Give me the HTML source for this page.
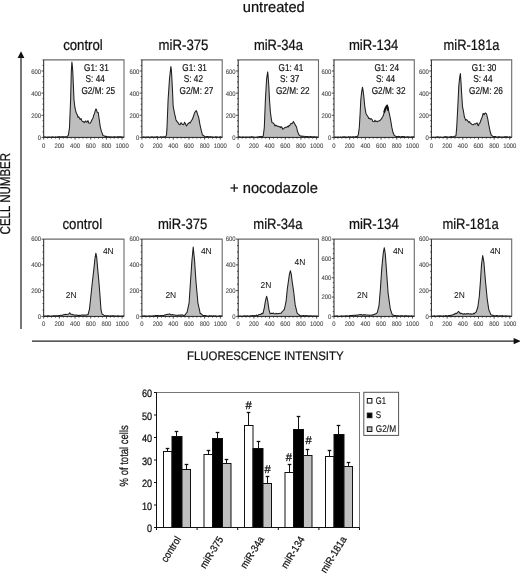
<!DOCTYPE html>
<html><head><meta charset="utf-8"><style>
html,body{margin:0;padding:0;background:#fff;}
body{width:520px;height:574px;overflow:hidden;}
svg{display:block;font-family:"Liberation Sans", sans-serif;will-change:transform;text-rendering:geometricPrecision;}
</style></head><body>
<svg width="520" height="574" viewBox="0 0 520 574">
<rect width="520" height="574" fill="#fff"/>
<text x="242.8" y="12.4" font-size="15" textLength="61.9" lengthAdjust="spacingAndGlyphs" fill="#111" stroke="#111" stroke-width="0.24" >untreated</text>
<text x="230.0" y="192.7" font-size="15" textLength="88.0" lengthAdjust="spacingAndGlyphs" fill="#111" stroke="#111" stroke-width="0.24" >+ nocodazole</text>
<text x="63.2" y="50.2" font-size="15" textLength="39.6" lengthAdjust="spacingAndGlyphs" fill="#111" stroke="#111" stroke-width="0.24" >control</text>
<text x="158.6" y="50.0" font-size="15" textLength="49.8" lengthAdjust="spacingAndGlyphs" fill="#111" stroke="#111" stroke-width="0.24" >miR-375</text>
<text x="253.9" y="50.0" font-size="15" textLength="49.0" lengthAdjust="spacingAndGlyphs" fill="#111" stroke="#111" stroke-width="0.24" >miR-34a</text>
<text x="348.9" y="50.0" font-size="15" textLength="49.5" lengthAdjust="spacingAndGlyphs" fill="#111" stroke="#111" stroke-width="0.24" >miR-134</text>
<text x="443.6" y="50.0" font-size="15" textLength="55.9" lengthAdjust="spacingAndGlyphs" fill="#111" stroke="#111" stroke-width="0.24" >miR-181a</text>
<text x="62.5" y="228.8" font-size="15" textLength="39.6" lengthAdjust="spacingAndGlyphs" fill="#111" stroke="#111" stroke-width="0.24" >control</text>
<text x="157.9" y="228.8" font-size="15" textLength="49.5" lengthAdjust="spacingAndGlyphs" fill="#111" stroke="#111" stroke-width="0.24" >miR-375</text>
<text x="253.3" y="228.8" font-size="15" textLength="49.3" lengthAdjust="spacingAndGlyphs" fill="#111" stroke="#111" stroke-width="0.24" >miR-34a</text>
<text x="348.9" y="228.8" font-size="15" textLength="49.9" lengthAdjust="spacingAndGlyphs" fill="#111" stroke="#111" stroke-width="0.24" >miR-134</text>
<text x="442.4" y="228.8" font-size="15" textLength="56.3" lengthAdjust="spacingAndGlyphs" fill="#111" stroke="#111" stroke-width="0.24" >miR-181a</text>
<line x1="21" y1="56" x2="21" y2="329" stroke="#555" stroke-width="1.6"/>
<polygon points="21,51.3 17.6,58 24.4,58" fill="#111"/>
<line x1="32" y1="341.1" x2="515" y2="341.1" stroke="#222" stroke-width="1.3"/>
<polygon points="521,341.1 513.6,337.9 513.6,344.3" fill="#111"/>
<text transform="translate(10.2,234.4) rotate(-90)" font-size="14.2" textLength="81.5" lengthAdjust="spacingAndGlyphs" fill="#111" stroke="#111" stroke-width="0.24">CELL NUMBER</text>
<text x="187.0" y="360.3" font-size="12.3" textLength="156.5" lengthAdjust="spacingAndGlyphs" fill="#111" stroke="#111" stroke-width="0.24" >FLUORESCENCE INTENSITY</text>
<path d="M43.70,137.40 L43.70,137.10 L44.52,136.89 L45.34,136.94 L46.15,137.13 L46.97,137.23 L47.79,137.07 L48.61,137.13 L49.43,136.90 L50.25,137.18 L51.06,137.07 L51.88,137.00 L52.70,136.81 L53.52,137.04 L54.34,137.17 L55.15,136.88 L55.97,136.96 L56.79,137.18 L57.61,136.78 L58.43,136.73 L59.25,136.83 L60.06,136.77 L60.88,137.12 L61.70,136.86 L62.50,136.70 L63.30,136.77 L64.10,136.84 L64.90,137.00 L65.70,136.74 L66.70,136.43 L67.70,136.05 L68.40,135.12 L69.50,127.60 L70.60,99.70 L71.30,71.90 L71.90,62.10 L72.30,65.40 L72.80,71.90 L73.40,85.80 L74.00,99.70 L74.80,106.70 L75.70,110.90 L76.60,113.75 L77.30,114.57 L78.00,117.38 L78.70,116.79 L79.40,117.80 L80.25,119.47 L81.10,118.66 L81.85,120.80 L82.60,121.45 L83.40,121.51 L84.20,122.60 L84.95,121.66 L85.70,120.96 L86.47,122.11 L87.23,121.85 L88.00,120.66 L88.75,122.97 L89.50,123.16 L90.50,123.02 L91.50,120.76 L92.25,119.19 L93.00,118.00 L93.75,115.20 L94.50,113.34 L95.15,111.16 L95.80,109.08 L96.45,109.38 L97.10,112.18 L98.20,112.50 L99.20,119.40 L100.30,127.10 L101.50,131.63 L102.25,133.42 L103.00,135.57 L103.95,135.81 L104.90,136.38 L105.83,136.26 L106.77,136.60 L107.70,136.75 L108.49,136.85 L109.28,136.77 L110.07,136.91 L110.86,136.81 L111.65,137.00 L112.44,137.07 L113.23,137.09 L114.02,136.85 L114.81,136.83 L115.60,136.96 L116.40,137.20 L117.19,136.82 L117.98,136.76 L118.77,136.75 L119.56,136.81 L120.35,136.79 L121.14,136.79 L121.93,137.03 L122.72,137.14 L123.51,136.96 L124.30,137.10 L124.30,137.40 Z" fill="#bebebe" stroke="none"/>
<path d="M43.70,137.10 L44.52,136.89 L45.34,136.94 L46.15,137.13 L46.97,137.23 L47.79,137.07 L48.61,137.13 L49.43,136.90 L50.25,137.18 L51.06,137.07 L51.88,137.00 L52.70,136.81 L53.52,137.04 L54.34,137.17 L55.15,136.88 L55.97,136.96 L56.79,137.18 L57.61,136.78 L58.43,136.73 L59.25,136.83 L60.06,136.77 L60.88,137.12 L61.70,136.86 L62.50,136.70 L63.30,136.77 L64.10,136.84 L64.90,137.00 L65.70,136.74 L66.70,136.43 L67.70,136.05 L68.40,135.12 L69.50,127.60 L70.60,99.70 L71.30,71.90 L71.90,62.10 L72.30,65.40 L72.80,71.90 L73.40,85.80 L74.00,99.70 L74.80,106.70 L75.70,110.90 L76.60,113.75 L77.30,114.57 L78.00,117.38 L78.70,116.79 L79.40,117.80 L80.25,119.47 L81.10,118.66 L81.85,120.80 L82.60,121.45 L83.40,121.51 L84.20,122.60 L84.95,121.66 L85.70,120.96 L86.47,122.11 L87.23,121.85 L88.00,120.66 L88.75,122.97 L89.50,123.16 L90.50,123.02 L91.50,120.76 L92.25,119.19 L93.00,118.00 L93.75,115.20 L94.50,113.34 L95.15,111.16 L95.80,109.08 L96.45,109.38 L97.10,112.18 L98.20,112.50 L99.20,119.40 L100.30,127.10 L101.50,131.63 L102.25,133.42 L103.00,135.57 L103.95,135.81 L104.90,136.38 L105.83,136.26 L106.77,136.60 L107.70,136.75 L108.49,136.85 L109.28,136.77 L110.07,136.91 L110.86,136.81 L111.65,137.00 L112.44,137.07 L113.23,137.09 L114.02,136.85 L114.81,136.83 L115.60,136.96 L116.40,137.20 L117.19,136.82 L117.98,136.76 L118.77,136.75 L119.56,136.81 L120.35,136.79 L121.14,136.79 L121.93,137.03 L122.72,137.14 L123.51,136.96 L124.30,137.10" fill="none" stroke="#1e1e1e" stroke-width="1.05" stroke-linejoin="round"/>
<polyline points="43.7,59.9 124.0,59.9 124.0,137.4" fill="none" stroke="#6a6a6a" stroke-width="1.1"/>
<polyline points="43.7,59.9 43.7,137.4 124.0,137.4" fill="none" stroke="#222" stroke-width="1.0"/>
<line x1="41.50" y1="137.40" x2="43.7" y2="137.40" stroke="#222" stroke-width="0.8"/>
<line x1="42.50" y1="131.86" x2="43.7" y2="131.86" stroke="#222" stroke-width="0.8"/>
<line x1="42.50" y1="126.33" x2="43.7" y2="126.33" stroke="#222" stroke-width="0.8"/>
<line x1="42.50" y1="120.79" x2="43.7" y2="120.79" stroke="#222" stroke-width="0.8"/>
<line x1="41.50" y1="115.26" x2="43.7" y2="115.26" stroke="#222" stroke-width="0.8"/>
<line x1="42.50" y1="109.72" x2="43.7" y2="109.72" stroke="#222" stroke-width="0.8"/>
<line x1="42.50" y1="104.19" x2="43.7" y2="104.19" stroke="#222" stroke-width="0.8"/>
<line x1="42.50" y1="98.65" x2="43.7" y2="98.65" stroke="#222" stroke-width="0.8"/>
<line x1="41.50" y1="93.11" x2="43.7" y2="93.11" stroke="#222" stroke-width="0.8"/>
<line x1="42.50" y1="87.58" x2="43.7" y2="87.58" stroke="#222" stroke-width="0.8"/>
<line x1="42.50" y1="82.04" x2="43.7" y2="82.04" stroke="#222" stroke-width="0.8"/>
<line x1="42.50" y1="76.51" x2="43.7" y2="76.51" stroke="#222" stroke-width="0.8"/>
<line x1="41.50" y1="70.97" x2="43.7" y2="70.97" stroke="#222" stroke-width="0.8"/>
<line x1="42.50" y1="65.44" x2="43.7" y2="65.44" stroke="#222" stroke-width="0.8"/>
<line x1="42.50" y1="59.90" x2="43.7" y2="59.90" stroke="#222" stroke-width="0.8"/>
<text x="41.10" y="140.20" font-size="6.6" textLength="3.30" lengthAdjust="spacingAndGlyphs" text-anchor="end" fill="#4a4a4a" stroke="#4a4a4a" stroke-width="0.12">0</text>
<text x="41.10" y="118.06" font-size="6.6" textLength="9.90" lengthAdjust="spacingAndGlyphs" text-anchor="end" fill="#4a4a4a" stroke="#4a4a4a" stroke-width="0.12">200</text>
<text x="41.10" y="95.91" font-size="6.6" textLength="9.90" lengthAdjust="spacingAndGlyphs" text-anchor="end" fill="#4a4a4a" stroke="#4a4a4a" stroke-width="0.12">400</text>
<text x="41.10" y="73.77" font-size="6.6" textLength="9.90" lengthAdjust="spacingAndGlyphs" text-anchor="end" fill="#4a4a4a" stroke="#4a4a4a" stroke-width="0.12">600</text>
<line x1="43.70" y1="137.4" x2="43.70" y2="139.60" stroke="#222" stroke-width="0.8"/>
<line x1="47.62" y1="137.4" x2="47.62" y2="138.60" stroke="#222" stroke-width="0.8"/>
<line x1="51.54" y1="137.4" x2="51.54" y2="138.60" stroke="#222" stroke-width="0.8"/>
<line x1="55.46" y1="137.4" x2="55.46" y2="138.60" stroke="#222" stroke-width="0.8"/>
<line x1="59.38" y1="137.4" x2="59.38" y2="139.60" stroke="#222" stroke-width="0.8"/>
<line x1="63.30" y1="137.4" x2="63.30" y2="138.60" stroke="#222" stroke-width="0.8"/>
<line x1="67.23" y1="137.4" x2="67.23" y2="138.60" stroke="#222" stroke-width="0.8"/>
<line x1="71.15" y1="137.4" x2="71.15" y2="138.60" stroke="#222" stroke-width="0.8"/>
<line x1="75.07" y1="137.4" x2="75.07" y2="139.60" stroke="#222" stroke-width="0.8"/>
<line x1="78.99" y1="137.4" x2="78.99" y2="138.60" stroke="#222" stroke-width="0.8"/>
<line x1="82.91" y1="137.4" x2="82.91" y2="138.60" stroke="#222" stroke-width="0.8"/>
<line x1="86.83" y1="137.4" x2="86.83" y2="138.60" stroke="#222" stroke-width="0.8"/>
<line x1="90.75" y1="137.4" x2="90.75" y2="139.60" stroke="#222" stroke-width="0.8"/>
<line x1="94.67" y1="137.4" x2="94.67" y2="138.60" stroke="#222" stroke-width="0.8"/>
<line x1="98.59" y1="137.4" x2="98.59" y2="138.60" stroke="#222" stroke-width="0.8"/>
<line x1="102.51" y1="137.4" x2="102.51" y2="138.60" stroke="#222" stroke-width="0.8"/>
<line x1="106.43" y1="137.4" x2="106.43" y2="139.60" stroke="#222" stroke-width="0.8"/>
<line x1="110.36" y1="137.4" x2="110.36" y2="138.60" stroke="#222" stroke-width="0.8"/>
<line x1="114.28" y1="137.4" x2="114.28" y2="138.60" stroke="#222" stroke-width="0.8"/>
<line x1="118.20" y1="137.4" x2="118.20" y2="138.60" stroke="#222" stroke-width="0.8"/>
<line x1="122.12" y1="137.4" x2="122.12" y2="139.60" stroke="#222" stroke-width="0.8"/>
<text x="43.70" y="148.00" font-size="6.6" textLength="3.30" lengthAdjust="spacingAndGlyphs" text-anchor="middle" fill="#4a4a4a" stroke="#4a4a4a" stroke-width="0.12">0</text>
<text x="59.38" y="148.00" font-size="6.6" textLength="9.90" lengthAdjust="spacingAndGlyphs" text-anchor="middle" fill="#4a4a4a" stroke="#4a4a4a" stroke-width="0.12">200</text>
<text x="75.07" y="148.00" font-size="6.6" textLength="9.90" lengthAdjust="spacingAndGlyphs" text-anchor="middle" fill="#4a4a4a" stroke="#4a4a4a" stroke-width="0.12">400</text>
<text x="90.75" y="148.00" font-size="6.6" textLength="9.90" lengthAdjust="spacingAndGlyphs" text-anchor="middle" fill="#4a4a4a" stroke="#4a4a4a" stroke-width="0.12">600</text>
<text x="106.43" y="148.00" font-size="6.6" textLength="9.90" lengthAdjust="spacingAndGlyphs" text-anchor="middle" fill="#4a4a4a" stroke="#4a4a4a" stroke-width="0.12">800</text>
<text x="122.12" y="148.00" font-size="6.6" textLength="13.20" lengthAdjust="spacingAndGlyphs" text-anchor="middle" fill="#4a4a4a" stroke="#4a4a4a" stroke-width="0.12">1000</text>
<path d="M141.90,137.40 L141.90,137.10 L142.72,137.25 L143.54,136.88 L144.35,136.93 L145.17,137.23 L145.99,137.08 L146.81,137.10 L147.63,136.98 L148.45,136.89 L149.26,137.25 L150.08,137.25 L150.90,136.85 L151.72,137.09 L152.54,136.88 L153.35,137.25 L154.17,137.06 L154.99,136.89 L155.81,137.19 L156.63,136.75 L157.45,136.77 L158.26,137.25 L159.08,137.25 L159.90,136.98 L160.70,136.68 L161.50,136.95 L162.30,136.99 L163.10,136.81 L163.90,136.98 L164.90,136.62 L165.90,136.24 L166.50,134.90 L167.00,127.60 L168.10,99.70 L168.80,89.25 L169.50,78.80 L170.20,72.65 L170.90,66.50 L171.40,70.40 L171.90,78.80 L172.60,92.80 L173.20,106.70 L173.90,110.20 L174.60,113.70 L175.30,116.55 L176.00,119.93 L176.75,121.09 L177.50,122.26 L178.30,122.98 L179.10,124.52 L180.05,124.66 L181.00,122.62 L181.95,123.94 L182.90,124.52 L183.70,124.68 L184.50,122.31 L185.45,123.53 L186.40,125.96 L187.17,125.03 L187.93,123.76 L188.70,123.28 L189.40,122.43 L190.10,123.06 L190.80,121.84 L191.65,120.26 L192.50,119.09 L193.45,116.22 L194.40,113.34 L195.30,111.66 L196.20,110.59 L196.85,111.77 L197.50,114.23 L198.60,117.10 L199.30,120.95 L200.00,124.80 L201.20,130.20 L201.80,132.50 L202.40,135.04 L203.15,135.22 L203.90,136.05 L204.90,136.55 L205.90,136.67 L206.69,136.60 L207.48,136.63 L208.27,136.83 L209.06,136.81 L209.85,136.79 L210.64,136.65 L211.43,136.82 L212.22,136.92 L213.01,136.88 L213.80,137.17 L214.60,137.18 L215.39,136.81 L216.18,136.66 L216.97,136.91 L217.76,137.05 L218.55,137.20 L219.34,137.02 L220.13,136.75 L220.92,136.90 L221.71,137.06 L222.50,137.10 L222.50,137.40 Z" fill="#bebebe" stroke="none"/>
<path d="M141.90,137.10 L142.72,137.25 L143.54,136.88 L144.35,136.93 L145.17,137.23 L145.99,137.08 L146.81,137.10 L147.63,136.98 L148.45,136.89 L149.26,137.25 L150.08,137.25 L150.90,136.85 L151.72,137.09 L152.54,136.88 L153.35,137.25 L154.17,137.06 L154.99,136.89 L155.81,137.19 L156.63,136.75 L157.45,136.77 L158.26,137.25 L159.08,137.25 L159.90,136.98 L160.70,136.68 L161.50,136.95 L162.30,136.99 L163.10,136.81 L163.90,136.98 L164.90,136.62 L165.90,136.24 L166.50,134.90 L167.00,127.60 L168.10,99.70 L168.80,89.25 L169.50,78.80 L170.20,72.65 L170.90,66.50 L171.40,70.40 L171.90,78.80 L172.60,92.80 L173.20,106.70 L173.90,110.20 L174.60,113.70 L175.30,116.55 L176.00,119.93 L176.75,121.09 L177.50,122.26 L178.30,122.98 L179.10,124.52 L180.05,124.66 L181.00,122.62 L181.95,123.94 L182.90,124.52 L183.70,124.68 L184.50,122.31 L185.45,123.53 L186.40,125.96 L187.17,125.03 L187.93,123.76 L188.70,123.28 L189.40,122.43 L190.10,123.06 L190.80,121.84 L191.65,120.26 L192.50,119.09 L193.45,116.22 L194.40,113.34 L195.30,111.66 L196.20,110.59 L196.85,111.77 L197.50,114.23 L198.60,117.10 L199.30,120.95 L200.00,124.80 L201.20,130.20 L201.80,132.50 L202.40,135.04 L203.15,135.22 L203.90,136.05 L204.90,136.55 L205.90,136.67 L206.69,136.60 L207.48,136.63 L208.27,136.83 L209.06,136.81 L209.85,136.79 L210.64,136.65 L211.43,136.82 L212.22,136.92 L213.01,136.88 L213.80,137.17 L214.60,137.18 L215.39,136.81 L216.18,136.66 L216.97,136.91 L217.76,137.05 L218.55,137.20 L219.34,137.02 L220.13,136.75 L220.92,136.90 L221.71,137.06 L222.50,137.10" fill="none" stroke="#1e1e1e" stroke-width="1.05" stroke-linejoin="round"/>
<polyline points="141.9,59.9 222.2,59.9 222.2,137.4" fill="none" stroke="#6a6a6a" stroke-width="1.1"/>
<polyline points="141.9,59.9 141.9,137.4 222.2,137.4" fill="none" stroke="#222" stroke-width="1.0"/>
<line x1="139.70" y1="137.40" x2="141.9" y2="137.40" stroke="#222" stroke-width="0.8"/>
<line x1="140.70" y1="131.86" x2="141.9" y2="131.86" stroke="#222" stroke-width="0.8"/>
<line x1="140.70" y1="126.33" x2="141.9" y2="126.33" stroke="#222" stroke-width="0.8"/>
<line x1="140.70" y1="120.79" x2="141.9" y2="120.79" stroke="#222" stroke-width="0.8"/>
<line x1="139.70" y1="115.26" x2="141.9" y2="115.26" stroke="#222" stroke-width="0.8"/>
<line x1="140.70" y1="109.72" x2="141.9" y2="109.72" stroke="#222" stroke-width="0.8"/>
<line x1="140.70" y1="104.19" x2="141.9" y2="104.19" stroke="#222" stroke-width="0.8"/>
<line x1="140.70" y1="98.65" x2="141.9" y2="98.65" stroke="#222" stroke-width="0.8"/>
<line x1="139.70" y1="93.11" x2="141.9" y2="93.11" stroke="#222" stroke-width="0.8"/>
<line x1="140.70" y1="87.58" x2="141.9" y2="87.58" stroke="#222" stroke-width="0.8"/>
<line x1="140.70" y1="82.04" x2="141.9" y2="82.04" stroke="#222" stroke-width="0.8"/>
<line x1="140.70" y1="76.51" x2="141.9" y2="76.51" stroke="#222" stroke-width="0.8"/>
<line x1="139.70" y1="70.97" x2="141.9" y2="70.97" stroke="#222" stroke-width="0.8"/>
<line x1="140.70" y1="65.44" x2="141.9" y2="65.44" stroke="#222" stroke-width="0.8"/>
<line x1="140.70" y1="59.90" x2="141.9" y2="59.90" stroke="#222" stroke-width="0.8"/>
<text x="139.30" y="140.20" font-size="6.6" textLength="3.30" lengthAdjust="spacingAndGlyphs" text-anchor="end" fill="#4a4a4a" stroke="#4a4a4a" stroke-width="0.12">0</text>
<text x="139.30" y="118.06" font-size="6.6" textLength="9.90" lengthAdjust="spacingAndGlyphs" text-anchor="end" fill="#4a4a4a" stroke="#4a4a4a" stroke-width="0.12">200</text>
<text x="139.30" y="95.91" font-size="6.6" textLength="9.90" lengthAdjust="spacingAndGlyphs" text-anchor="end" fill="#4a4a4a" stroke="#4a4a4a" stroke-width="0.12">400</text>
<text x="139.30" y="73.77" font-size="6.6" textLength="9.90" lengthAdjust="spacingAndGlyphs" text-anchor="end" fill="#4a4a4a" stroke="#4a4a4a" stroke-width="0.12">600</text>
<line x1="141.90" y1="137.4" x2="141.90" y2="139.60" stroke="#222" stroke-width="0.8"/>
<line x1="145.82" y1="137.4" x2="145.82" y2="138.60" stroke="#222" stroke-width="0.8"/>
<line x1="149.74" y1="137.4" x2="149.74" y2="138.60" stroke="#222" stroke-width="0.8"/>
<line x1="153.66" y1="137.4" x2="153.66" y2="138.60" stroke="#222" stroke-width="0.8"/>
<line x1="157.58" y1="137.4" x2="157.58" y2="139.60" stroke="#222" stroke-width="0.8"/>
<line x1="161.50" y1="137.4" x2="161.50" y2="138.60" stroke="#222" stroke-width="0.8"/>
<line x1="165.43" y1="137.4" x2="165.43" y2="138.60" stroke="#222" stroke-width="0.8"/>
<line x1="169.35" y1="137.4" x2="169.35" y2="138.60" stroke="#222" stroke-width="0.8"/>
<line x1="173.27" y1="137.4" x2="173.27" y2="139.60" stroke="#222" stroke-width="0.8"/>
<line x1="177.19" y1="137.4" x2="177.19" y2="138.60" stroke="#222" stroke-width="0.8"/>
<line x1="181.11" y1="137.4" x2="181.11" y2="138.60" stroke="#222" stroke-width="0.8"/>
<line x1="185.03" y1="137.4" x2="185.03" y2="138.60" stroke="#222" stroke-width="0.8"/>
<line x1="188.95" y1="137.4" x2="188.95" y2="139.60" stroke="#222" stroke-width="0.8"/>
<line x1="192.87" y1="137.4" x2="192.87" y2="138.60" stroke="#222" stroke-width="0.8"/>
<line x1="196.79" y1="137.4" x2="196.79" y2="138.60" stroke="#222" stroke-width="0.8"/>
<line x1="200.71" y1="137.4" x2="200.71" y2="138.60" stroke="#222" stroke-width="0.8"/>
<line x1="204.63" y1="137.4" x2="204.63" y2="139.60" stroke="#222" stroke-width="0.8"/>
<line x1="208.56" y1="137.4" x2="208.56" y2="138.60" stroke="#222" stroke-width="0.8"/>
<line x1="212.48" y1="137.4" x2="212.48" y2="138.60" stroke="#222" stroke-width="0.8"/>
<line x1="216.40" y1="137.4" x2="216.40" y2="138.60" stroke="#222" stroke-width="0.8"/>
<line x1="220.32" y1="137.4" x2="220.32" y2="139.60" stroke="#222" stroke-width="0.8"/>
<text x="141.90" y="148.00" font-size="6.6" textLength="3.30" lengthAdjust="spacingAndGlyphs" text-anchor="middle" fill="#4a4a4a" stroke="#4a4a4a" stroke-width="0.12">0</text>
<text x="157.58" y="148.00" font-size="6.6" textLength="9.90" lengthAdjust="spacingAndGlyphs" text-anchor="middle" fill="#4a4a4a" stroke="#4a4a4a" stroke-width="0.12">200</text>
<text x="173.27" y="148.00" font-size="6.6" textLength="9.90" lengthAdjust="spacingAndGlyphs" text-anchor="middle" fill="#4a4a4a" stroke="#4a4a4a" stroke-width="0.12">400</text>
<text x="188.95" y="148.00" font-size="6.6" textLength="9.90" lengthAdjust="spacingAndGlyphs" text-anchor="middle" fill="#4a4a4a" stroke="#4a4a4a" stroke-width="0.12">600</text>
<text x="204.63" y="148.00" font-size="6.6" textLength="9.90" lengthAdjust="spacingAndGlyphs" text-anchor="middle" fill="#4a4a4a" stroke="#4a4a4a" stroke-width="0.12">800</text>
<text x="220.32" y="148.00" font-size="6.6" textLength="13.20" lengthAdjust="spacingAndGlyphs" text-anchor="middle" fill="#4a4a4a" stroke="#4a4a4a" stroke-width="0.12">1000</text>
<path d="M238.20,137.40 L238.20,137.10 L239.02,136.82 L239.84,136.82 L240.65,137.25 L241.47,137.25 L242.29,136.88 L243.11,136.93 L243.93,136.97 L244.75,137.18 L245.56,137.00 L246.38,136.99 L247.20,137.00 L248.02,137.25 L248.84,137.08 L249.65,137.10 L250.47,136.90 L251.29,136.73 L252.11,136.75 L252.93,136.99 L253.75,137.05 L254.56,137.15 L255.38,137.25 L256.20,137.25 L257.00,136.96 L257.80,136.99 L258.60,136.89 L259.40,136.52 L260.20,136.68 L261.07,136.50 L261.93,136.52 L262.80,136.49 L263.30,135.50 L264.30,127.60 L265.40,99.70 L266.60,78.80 L267.70,71.90 L268.20,77.40 L268.80,85.80 L269.50,99.70 L270.40,112.40 L271.30,118.80 L272.00,122.63 L272.70,122.88 L273.40,122.90 L274.30,124.45 L275.07,125.97 L275.83,125.09 L276.60,125.83 L277.37,126.19 L278.13,126.10 L278.90,126.61 L279.67,126.70 L280.43,127.63 L281.20,126.63 L281.93,127.29 L282.67,129.28 L283.40,128.88 L284.25,128.03 L285.10,127.57 L285.88,127.32 L286.65,127.27 L287.43,126.34 L288.20,127.00 L288.97,125.63 L289.73,125.82 L290.50,124.03 L291.22,123.40 L291.95,123.68 L292.68,122.86 L293.40,121.56 L294.25,122.95 L295.10,124.43 L295.80,125.96 L296.50,126.74 L297.40,131.00 L298.50,133.89 L299.30,135.25 L300.10,135.76 L301.00,136.27 L301.90,136.02 L302.80,136.51 L303.60,136.16 L304.40,136.35 L305.20,136.50 L306.00,136.53 L306.80,136.48 L307.60,136.56 L308.40,136.76 L309.20,136.86 L310.00,136.71 L310.80,136.49 L311.60,136.71 L312.40,137.07 L313.20,136.66 L314.00,136.75 L314.80,136.68 L315.60,137.15 L316.40,136.85 L317.20,137.25 L318.00,136.97 L318.80,137.10 L318.80,137.40 Z" fill="#bebebe" stroke="none"/>
<path d="M238.20,137.10 L239.02,136.82 L239.84,136.82 L240.65,137.25 L241.47,137.25 L242.29,136.88 L243.11,136.93 L243.93,136.97 L244.75,137.18 L245.56,137.00 L246.38,136.99 L247.20,137.00 L248.02,137.25 L248.84,137.08 L249.65,137.10 L250.47,136.90 L251.29,136.73 L252.11,136.75 L252.93,136.99 L253.75,137.05 L254.56,137.15 L255.38,137.25 L256.20,137.25 L257.00,136.96 L257.80,136.99 L258.60,136.89 L259.40,136.52 L260.20,136.68 L261.07,136.50 L261.93,136.52 L262.80,136.49 L263.30,135.50 L264.30,127.60 L265.40,99.70 L266.60,78.80 L267.70,71.90 L268.20,77.40 L268.80,85.80 L269.50,99.70 L270.40,112.40 L271.30,118.80 L272.00,122.63 L272.70,122.88 L273.40,122.90 L274.30,124.45 L275.07,125.97 L275.83,125.09 L276.60,125.83 L277.37,126.19 L278.13,126.10 L278.90,126.61 L279.67,126.70 L280.43,127.63 L281.20,126.63 L281.93,127.29 L282.67,129.28 L283.40,128.88 L284.25,128.03 L285.10,127.57 L285.88,127.32 L286.65,127.27 L287.43,126.34 L288.20,127.00 L288.97,125.63 L289.73,125.82 L290.50,124.03 L291.22,123.40 L291.95,123.68 L292.68,122.86 L293.40,121.56 L294.25,122.95 L295.10,124.43 L295.80,125.96 L296.50,126.74 L297.40,131.00 L298.50,133.89 L299.30,135.25 L300.10,135.76 L301.00,136.27 L301.90,136.02 L302.80,136.51 L303.60,136.16 L304.40,136.35 L305.20,136.50 L306.00,136.53 L306.80,136.48 L307.60,136.56 L308.40,136.76 L309.20,136.86 L310.00,136.71 L310.80,136.49 L311.60,136.71 L312.40,137.07 L313.20,136.66 L314.00,136.75 L314.80,136.68 L315.60,137.15 L316.40,136.85 L317.20,137.25 L318.00,136.97 L318.80,137.10" fill="none" stroke="#1e1e1e" stroke-width="1.05" stroke-linejoin="round"/>
<polyline points="238.2,59.9 318.5,59.9 318.5,137.4" fill="none" stroke="#6a6a6a" stroke-width="1.1"/>
<polyline points="238.2,59.9 238.2,137.4 318.5,137.4" fill="none" stroke="#222" stroke-width="1.0"/>
<line x1="236.00" y1="137.40" x2="238.2" y2="137.40" stroke="#222" stroke-width="0.8"/>
<line x1="237.00" y1="131.86" x2="238.2" y2="131.86" stroke="#222" stroke-width="0.8"/>
<line x1="237.00" y1="126.33" x2="238.2" y2="126.33" stroke="#222" stroke-width="0.8"/>
<line x1="237.00" y1="120.79" x2="238.2" y2="120.79" stroke="#222" stroke-width="0.8"/>
<line x1="236.00" y1="115.26" x2="238.2" y2="115.26" stroke="#222" stroke-width="0.8"/>
<line x1="237.00" y1="109.72" x2="238.2" y2="109.72" stroke="#222" stroke-width="0.8"/>
<line x1="237.00" y1="104.19" x2="238.2" y2="104.19" stroke="#222" stroke-width="0.8"/>
<line x1="237.00" y1="98.65" x2="238.2" y2="98.65" stroke="#222" stroke-width="0.8"/>
<line x1="236.00" y1="93.11" x2="238.2" y2="93.11" stroke="#222" stroke-width="0.8"/>
<line x1="237.00" y1="87.58" x2="238.2" y2="87.58" stroke="#222" stroke-width="0.8"/>
<line x1="237.00" y1="82.04" x2="238.2" y2="82.04" stroke="#222" stroke-width="0.8"/>
<line x1="237.00" y1="76.51" x2="238.2" y2="76.51" stroke="#222" stroke-width="0.8"/>
<line x1="236.00" y1="70.97" x2="238.2" y2="70.97" stroke="#222" stroke-width="0.8"/>
<line x1="237.00" y1="65.44" x2="238.2" y2="65.44" stroke="#222" stroke-width="0.8"/>
<line x1="237.00" y1="59.90" x2="238.2" y2="59.90" stroke="#222" stroke-width="0.8"/>
<text x="235.60" y="140.20" font-size="6.6" textLength="3.30" lengthAdjust="spacingAndGlyphs" text-anchor="end" fill="#4a4a4a" stroke="#4a4a4a" stroke-width="0.12">0</text>
<text x="235.60" y="118.06" font-size="6.6" textLength="9.90" lengthAdjust="spacingAndGlyphs" text-anchor="end" fill="#4a4a4a" stroke="#4a4a4a" stroke-width="0.12">200</text>
<text x="235.60" y="95.91" font-size="6.6" textLength="9.90" lengthAdjust="spacingAndGlyphs" text-anchor="end" fill="#4a4a4a" stroke="#4a4a4a" stroke-width="0.12">400</text>
<text x="235.60" y="73.77" font-size="6.6" textLength="9.90" lengthAdjust="spacingAndGlyphs" text-anchor="end" fill="#4a4a4a" stroke="#4a4a4a" stroke-width="0.12">600</text>
<line x1="238.20" y1="137.4" x2="238.20" y2="139.60" stroke="#222" stroke-width="0.8"/>
<line x1="242.12" y1="137.4" x2="242.12" y2="138.60" stroke="#222" stroke-width="0.8"/>
<line x1="246.04" y1="137.4" x2="246.04" y2="138.60" stroke="#222" stroke-width="0.8"/>
<line x1="249.96" y1="137.4" x2="249.96" y2="138.60" stroke="#222" stroke-width="0.8"/>
<line x1="253.88" y1="137.4" x2="253.88" y2="139.60" stroke="#222" stroke-width="0.8"/>
<line x1="257.80" y1="137.4" x2="257.80" y2="138.60" stroke="#222" stroke-width="0.8"/>
<line x1="261.73" y1="137.4" x2="261.73" y2="138.60" stroke="#222" stroke-width="0.8"/>
<line x1="265.65" y1="137.4" x2="265.65" y2="138.60" stroke="#222" stroke-width="0.8"/>
<line x1="269.57" y1="137.4" x2="269.57" y2="139.60" stroke="#222" stroke-width="0.8"/>
<line x1="273.49" y1="137.4" x2="273.49" y2="138.60" stroke="#222" stroke-width="0.8"/>
<line x1="277.41" y1="137.4" x2="277.41" y2="138.60" stroke="#222" stroke-width="0.8"/>
<line x1="281.33" y1="137.4" x2="281.33" y2="138.60" stroke="#222" stroke-width="0.8"/>
<line x1="285.25" y1="137.4" x2="285.25" y2="139.60" stroke="#222" stroke-width="0.8"/>
<line x1="289.17" y1="137.4" x2="289.17" y2="138.60" stroke="#222" stroke-width="0.8"/>
<line x1="293.09" y1="137.4" x2="293.09" y2="138.60" stroke="#222" stroke-width="0.8"/>
<line x1="297.01" y1="137.4" x2="297.01" y2="138.60" stroke="#222" stroke-width="0.8"/>
<line x1="300.93" y1="137.4" x2="300.93" y2="139.60" stroke="#222" stroke-width="0.8"/>
<line x1="304.86" y1="137.4" x2="304.86" y2="138.60" stroke="#222" stroke-width="0.8"/>
<line x1="308.78" y1="137.4" x2="308.78" y2="138.60" stroke="#222" stroke-width="0.8"/>
<line x1="312.70" y1="137.4" x2="312.70" y2="138.60" stroke="#222" stroke-width="0.8"/>
<line x1="316.62" y1="137.4" x2="316.62" y2="139.60" stroke="#222" stroke-width="0.8"/>
<text x="238.20" y="148.00" font-size="6.6" textLength="3.30" lengthAdjust="spacingAndGlyphs" text-anchor="middle" fill="#4a4a4a" stroke="#4a4a4a" stroke-width="0.12">0</text>
<text x="253.88" y="148.00" font-size="6.6" textLength="9.90" lengthAdjust="spacingAndGlyphs" text-anchor="middle" fill="#4a4a4a" stroke="#4a4a4a" stroke-width="0.12">200</text>
<text x="269.57" y="148.00" font-size="6.6" textLength="9.90" lengthAdjust="spacingAndGlyphs" text-anchor="middle" fill="#4a4a4a" stroke="#4a4a4a" stroke-width="0.12">400</text>
<text x="285.25" y="148.00" font-size="6.6" textLength="9.90" lengthAdjust="spacingAndGlyphs" text-anchor="middle" fill="#4a4a4a" stroke="#4a4a4a" stroke-width="0.12">600</text>
<text x="300.93" y="148.00" font-size="6.6" textLength="9.90" lengthAdjust="spacingAndGlyphs" text-anchor="middle" fill="#4a4a4a" stroke="#4a4a4a" stroke-width="0.12">800</text>
<text x="316.62" y="148.00" font-size="6.6" textLength="13.20" lengthAdjust="spacingAndGlyphs" text-anchor="middle" fill="#4a4a4a" stroke="#4a4a4a" stroke-width="0.12">1000</text>
<path d="M334.00,137.40 L334.00,137.10 L334.82,137.25 L335.64,137.06 L336.45,137.16 L337.27,137.02 L338.09,137.00 L338.91,137.25 L339.73,137.25 L340.55,136.86 L341.36,137.20 L342.18,137.21 L343.00,136.75 L343.82,137.06 L344.64,136.84 L345.45,137.05 L346.27,136.95 L347.09,137.24 L347.91,136.94 L348.73,136.80 L349.55,137.00 L350.36,136.86 L351.18,136.90 L352.00,137.25 L352.80,136.79 L353.60,136.83 L354.40,136.94 L355.20,137.04 L356.00,136.48 L356.90,136.42 L357.80,135.97 L358.30,134.67 L359.30,127.60 L360.10,113.70 L360.80,99.70 L361.60,92.40 L362.50,87.20 L363.20,91.40 L363.90,97.00 L364.80,106.70 L366.00,113.70 L367.00,115.22 L368.00,116.76 L368.75,118.41 L369.50,118.20 L370.30,119.26 L371.10,118.63 L371.95,119.29 L372.80,121.41 L373.50,121.58 L374.20,121.67 L374.95,120.32 L375.70,121.53 L376.45,121.15 L377.20,121.80 L378.00,121.09 L378.80,121.03 L379.55,120.85 L380.30,120.13 L381.25,119.18 L382.20,117.59 L383.00,116.29 L383.80,114.04 L384.90,110.19 L385.80,107.92 L386.50,106.56 L387.40,105.07 L388.20,108.70 L389.40,114.10 L390.05,117.20 L390.70,120.30 L391.80,127.20 L392.40,129.90 L393.00,132.60 L393.60,133.77 L394.20,135.42 L395.10,135.86 L396.00,136.46 L396.81,136.40 L397.62,136.73 L398.43,136.38 L399.23,136.56 L400.04,136.76 L400.85,136.92 L401.66,136.47 L402.47,136.41 L403.28,136.98 L404.09,136.58 L404.90,136.84 L405.70,137.02 L406.51,136.96 L407.32,136.70 L408.13,136.67 L408.94,137.19 L409.75,136.87 L410.56,137.24 L411.37,136.86 L412.17,137.12 L412.98,136.82 L413.79,136.79 L414.60,137.10 L414.60,137.40 Z" fill="#bebebe" stroke="none"/>
<path d="M334.00,137.10 L334.82,137.25 L335.64,137.06 L336.45,137.16 L337.27,137.02 L338.09,137.00 L338.91,137.25 L339.73,137.25 L340.55,136.86 L341.36,137.20 L342.18,137.21 L343.00,136.75 L343.82,137.06 L344.64,136.84 L345.45,137.05 L346.27,136.95 L347.09,137.24 L347.91,136.94 L348.73,136.80 L349.55,137.00 L350.36,136.86 L351.18,136.90 L352.00,137.25 L352.80,136.79 L353.60,136.83 L354.40,136.94 L355.20,137.04 L356.00,136.48 L356.90,136.42 L357.80,135.97 L358.30,134.67 L359.30,127.60 L360.10,113.70 L360.80,99.70 L361.60,92.40 L362.50,87.20 L363.20,91.40 L363.90,97.00 L364.80,106.70 L366.00,113.70 L367.00,115.22 L368.00,116.76 L368.75,118.41 L369.50,118.20 L370.30,119.26 L371.10,118.63 L371.95,119.29 L372.80,121.41 L373.50,121.58 L374.20,121.67 L374.95,120.32 L375.70,121.53 L376.45,121.15 L377.20,121.80 L378.00,121.09 L378.80,121.03 L379.55,120.85 L380.30,120.13 L381.25,119.18 L382.20,117.59 L383.00,116.29 L383.80,114.04 L384.90,110.19 L385.80,107.92 L386.50,106.56 L387.40,105.07 L388.20,108.70 L389.40,114.10 L390.05,117.20 L390.70,120.30 L391.80,127.20 L392.40,129.90 L393.00,132.60 L393.60,133.77 L394.20,135.42 L395.10,135.86 L396.00,136.46 L396.81,136.40 L397.62,136.73 L398.43,136.38 L399.23,136.56 L400.04,136.76 L400.85,136.92 L401.66,136.47 L402.47,136.41 L403.28,136.98 L404.09,136.58 L404.90,136.84 L405.70,137.02 L406.51,136.96 L407.32,136.70 L408.13,136.67 L408.94,137.19 L409.75,136.87 L410.56,137.24 L411.37,136.86 L412.17,137.12 L412.98,136.82 L413.79,136.79 L414.60,137.10" fill="none" stroke="#1e1e1e" stroke-width="1.05" stroke-linejoin="round"/>
<polyline points="334.0,59.9 414.3,59.9 414.3,137.4" fill="none" stroke="#6a6a6a" stroke-width="1.1"/>
<polyline points="334.0,59.9 334.0,137.4 414.3,137.4" fill="none" stroke="#222" stroke-width="1.0"/>
<line x1="331.80" y1="137.40" x2="334.0" y2="137.40" stroke="#222" stroke-width="0.8"/>
<line x1="332.80" y1="131.86" x2="334.0" y2="131.86" stroke="#222" stroke-width="0.8"/>
<line x1="332.80" y1="126.33" x2="334.0" y2="126.33" stroke="#222" stroke-width="0.8"/>
<line x1="332.80" y1="120.79" x2="334.0" y2="120.79" stroke="#222" stroke-width="0.8"/>
<line x1="331.80" y1="115.26" x2="334.0" y2="115.26" stroke="#222" stroke-width="0.8"/>
<line x1="332.80" y1="109.72" x2="334.0" y2="109.72" stroke="#222" stroke-width="0.8"/>
<line x1="332.80" y1="104.19" x2="334.0" y2="104.19" stroke="#222" stroke-width="0.8"/>
<line x1="332.80" y1="98.65" x2="334.0" y2="98.65" stroke="#222" stroke-width="0.8"/>
<line x1="331.80" y1="93.11" x2="334.0" y2="93.11" stroke="#222" stroke-width="0.8"/>
<line x1="332.80" y1="87.58" x2="334.0" y2="87.58" stroke="#222" stroke-width="0.8"/>
<line x1="332.80" y1="82.04" x2="334.0" y2="82.04" stroke="#222" stroke-width="0.8"/>
<line x1="332.80" y1="76.51" x2="334.0" y2="76.51" stroke="#222" stroke-width="0.8"/>
<line x1="331.80" y1="70.97" x2="334.0" y2="70.97" stroke="#222" stroke-width="0.8"/>
<line x1="332.80" y1="65.44" x2="334.0" y2="65.44" stroke="#222" stroke-width="0.8"/>
<line x1="332.80" y1="59.90" x2="334.0" y2="59.90" stroke="#222" stroke-width="0.8"/>
<text x="331.40" y="140.20" font-size="6.6" textLength="3.30" lengthAdjust="spacingAndGlyphs" text-anchor="end" fill="#4a4a4a" stroke="#4a4a4a" stroke-width="0.12">0</text>
<text x="331.40" y="118.06" font-size="6.6" textLength="9.90" lengthAdjust="spacingAndGlyphs" text-anchor="end" fill="#4a4a4a" stroke="#4a4a4a" stroke-width="0.12">200</text>
<text x="331.40" y="95.91" font-size="6.6" textLength="9.90" lengthAdjust="spacingAndGlyphs" text-anchor="end" fill="#4a4a4a" stroke="#4a4a4a" stroke-width="0.12">400</text>
<text x="331.40" y="73.77" font-size="6.6" textLength="9.90" lengthAdjust="spacingAndGlyphs" text-anchor="end" fill="#4a4a4a" stroke="#4a4a4a" stroke-width="0.12">600</text>
<line x1="334.00" y1="137.4" x2="334.00" y2="139.60" stroke="#222" stroke-width="0.8"/>
<line x1="337.92" y1="137.4" x2="337.92" y2="138.60" stroke="#222" stroke-width="0.8"/>
<line x1="341.84" y1="137.4" x2="341.84" y2="138.60" stroke="#222" stroke-width="0.8"/>
<line x1="345.76" y1="137.4" x2="345.76" y2="138.60" stroke="#222" stroke-width="0.8"/>
<line x1="349.68" y1="137.4" x2="349.68" y2="139.60" stroke="#222" stroke-width="0.8"/>
<line x1="353.60" y1="137.4" x2="353.60" y2="138.60" stroke="#222" stroke-width="0.8"/>
<line x1="357.53" y1="137.4" x2="357.53" y2="138.60" stroke="#222" stroke-width="0.8"/>
<line x1="361.45" y1="137.4" x2="361.45" y2="138.60" stroke="#222" stroke-width="0.8"/>
<line x1="365.37" y1="137.4" x2="365.37" y2="139.60" stroke="#222" stroke-width="0.8"/>
<line x1="369.29" y1="137.4" x2="369.29" y2="138.60" stroke="#222" stroke-width="0.8"/>
<line x1="373.21" y1="137.4" x2="373.21" y2="138.60" stroke="#222" stroke-width="0.8"/>
<line x1="377.13" y1="137.4" x2="377.13" y2="138.60" stroke="#222" stroke-width="0.8"/>
<line x1="381.05" y1="137.4" x2="381.05" y2="139.60" stroke="#222" stroke-width="0.8"/>
<line x1="384.97" y1="137.4" x2="384.97" y2="138.60" stroke="#222" stroke-width="0.8"/>
<line x1="388.89" y1="137.4" x2="388.89" y2="138.60" stroke="#222" stroke-width="0.8"/>
<line x1="392.81" y1="137.4" x2="392.81" y2="138.60" stroke="#222" stroke-width="0.8"/>
<line x1="396.73" y1="137.4" x2="396.73" y2="139.60" stroke="#222" stroke-width="0.8"/>
<line x1="400.66" y1="137.4" x2="400.66" y2="138.60" stroke="#222" stroke-width="0.8"/>
<line x1="404.58" y1="137.4" x2="404.58" y2="138.60" stroke="#222" stroke-width="0.8"/>
<line x1="408.50" y1="137.4" x2="408.50" y2="138.60" stroke="#222" stroke-width="0.8"/>
<line x1="412.42" y1="137.4" x2="412.42" y2="139.60" stroke="#222" stroke-width="0.8"/>
<text x="334.00" y="148.00" font-size="6.6" textLength="3.30" lengthAdjust="spacingAndGlyphs" text-anchor="middle" fill="#4a4a4a" stroke="#4a4a4a" stroke-width="0.12">0</text>
<text x="349.68" y="148.00" font-size="6.6" textLength="9.90" lengthAdjust="spacingAndGlyphs" text-anchor="middle" fill="#4a4a4a" stroke="#4a4a4a" stroke-width="0.12">200</text>
<text x="365.37" y="148.00" font-size="6.6" textLength="9.90" lengthAdjust="spacingAndGlyphs" text-anchor="middle" fill="#4a4a4a" stroke="#4a4a4a" stroke-width="0.12">400</text>
<text x="381.05" y="148.00" font-size="6.6" textLength="9.90" lengthAdjust="spacingAndGlyphs" text-anchor="middle" fill="#4a4a4a" stroke="#4a4a4a" stroke-width="0.12">600</text>
<text x="396.73" y="148.00" font-size="6.6" textLength="9.90" lengthAdjust="spacingAndGlyphs" text-anchor="middle" fill="#4a4a4a" stroke="#4a4a4a" stroke-width="0.12">800</text>
<text x="412.42" y="148.00" font-size="6.6" textLength="13.20" lengthAdjust="spacingAndGlyphs" text-anchor="middle" fill="#4a4a4a" stroke="#4a4a4a" stroke-width="0.12">1000</text>
<path d="M431.40,137.40 L431.40,137.10 L432.22,137.25 L433.04,137.25 L433.85,137.15 L434.67,137.25 L435.49,137.25 L436.31,137.13 L437.13,136.82 L437.95,136.88 L438.76,136.90 L439.58,137.22 L440.40,137.03 L441.22,137.18 L442.04,137.24 L442.85,137.25 L443.67,137.20 L444.49,136.77 L445.31,136.83 L446.13,136.83 L446.95,136.83 L447.76,137.19 L448.58,137.12 L449.40,136.92 L450.20,136.80 L451.00,136.67 L451.80,136.59 L452.60,137.01 L453.40,136.64 L454.40,136.35 L455.40,136.20 L456.00,135.39 L456.70,127.60 L457.80,106.70 L458.80,85.80 L459.70,77.40 L460.40,73.50 L461.00,82.40 L461.60,92.80 L462.50,106.70 L463.40,110.90 L464.30,116.50 L465.00,118.35 L465.70,120.22 L466.40,119.63 L467.30,120.27 L468.07,121.40 L468.83,122.40 L469.60,121.68 L470.37,123.26 L471.13,123.54 L471.90,124.50 L472.67,124.82 L473.43,124.64 L474.20,123.90 L474.93,123.84 L475.67,123.98 L476.40,123.29 L477.10,122.91 L477.80,125.08 L478.50,125.71 L479.25,123.40 L480.00,122.94 L480.75,120.53 L481.50,118.76 L482.30,116.86 L483.10,113.41 L484.20,114.71 L484.80,113.42 L485.40,112.99 L486.50,113.83 L487.70,118.70 L488.80,124.80 L489.40,127.90 L490.00,131.00 L491.20,135.01 L491.95,135.69 L492.70,136.25 L493.60,136.64 L494.50,136.63 L495.40,136.56 L496.19,137.05 L496.98,137.09 L497.77,137.01 L498.56,136.70 L499.35,136.80 L500.14,137.04 L500.93,137.00 L501.72,137.11 L502.51,136.95 L503.30,137.22 L504.10,136.84 L504.89,136.73 L505.68,136.71 L506.47,136.86 L507.26,136.74 L508.05,137.25 L508.84,137.17 L509.63,136.78 L510.42,136.91 L511.21,137.14 L512.00,137.10 L512.00,137.40 Z" fill="#bebebe" stroke="none"/>
<path d="M431.40,137.10 L432.22,137.25 L433.04,137.25 L433.85,137.15 L434.67,137.25 L435.49,137.25 L436.31,137.13 L437.13,136.82 L437.95,136.88 L438.76,136.90 L439.58,137.22 L440.40,137.03 L441.22,137.18 L442.04,137.24 L442.85,137.25 L443.67,137.20 L444.49,136.77 L445.31,136.83 L446.13,136.83 L446.95,136.83 L447.76,137.19 L448.58,137.12 L449.40,136.92 L450.20,136.80 L451.00,136.67 L451.80,136.59 L452.60,137.01 L453.40,136.64 L454.40,136.35 L455.40,136.20 L456.00,135.39 L456.70,127.60 L457.80,106.70 L458.80,85.80 L459.70,77.40 L460.40,73.50 L461.00,82.40 L461.60,92.80 L462.50,106.70 L463.40,110.90 L464.30,116.50 L465.00,118.35 L465.70,120.22 L466.40,119.63 L467.30,120.27 L468.07,121.40 L468.83,122.40 L469.60,121.68 L470.37,123.26 L471.13,123.54 L471.90,124.50 L472.67,124.82 L473.43,124.64 L474.20,123.90 L474.93,123.84 L475.67,123.98 L476.40,123.29 L477.10,122.91 L477.80,125.08 L478.50,125.71 L479.25,123.40 L480.00,122.94 L480.75,120.53 L481.50,118.76 L482.30,116.86 L483.10,113.41 L484.20,114.71 L484.80,113.42 L485.40,112.99 L486.50,113.83 L487.70,118.70 L488.80,124.80 L489.40,127.90 L490.00,131.00 L491.20,135.01 L491.95,135.69 L492.70,136.25 L493.60,136.64 L494.50,136.63 L495.40,136.56 L496.19,137.05 L496.98,137.09 L497.77,137.01 L498.56,136.70 L499.35,136.80 L500.14,137.04 L500.93,137.00 L501.72,137.11 L502.51,136.95 L503.30,137.22 L504.10,136.84 L504.89,136.73 L505.68,136.71 L506.47,136.86 L507.26,136.74 L508.05,137.25 L508.84,137.17 L509.63,136.78 L510.42,136.91 L511.21,137.14 L512.00,137.10" fill="none" stroke="#1e1e1e" stroke-width="1.05" stroke-linejoin="round"/>
<polyline points="431.4,59.9 511.7,59.9 511.7,137.4" fill="none" stroke="#6a6a6a" stroke-width="1.1"/>
<polyline points="431.4,59.9 431.4,137.4 511.7,137.4" fill="none" stroke="#222" stroke-width="1.0"/>
<line x1="429.20" y1="137.40" x2="431.4" y2="137.40" stroke="#222" stroke-width="0.8"/>
<line x1="430.20" y1="131.86" x2="431.4" y2="131.86" stroke="#222" stroke-width="0.8"/>
<line x1="430.20" y1="126.33" x2="431.4" y2="126.33" stroke="#222" stroke-width="0.8"/>
<line x1="430.20" y1="120.79" x2="431.4" y2="120.79" stroke="#222" stroke-width="0.8"/>
<line x1="429.20" y1="115.26" x2="431.4" y2="115.26" stroke="#222" stroke-width="0.8"/>
<line x1="430.20" y1="109.72" x2="431.4" y2="109.72" stroke="#222" stroke-width="0.8"/>
<line x1="430.20" y1="104.19" x2="431.4" y2="104.19" stroke="#222" stroke-width="0.8"/>
<line x1="430.20" y1="98.65" x2="431.4" y2="98.65" stroke="#222" stroke-width="0.8"/>
<line x1="429.20" y1="93.11" x2="431.4" y2="93.11" stroke="#222" stroke-width="0.8"/>
<line x1="430.20" y1="87.58" x2="431.4" y2="87.58" stroke="#222" stroke-width="0.8"/>
<line x1="430.20" y1="82.04" x2="431.4" y2="82.04" stroke="#222" stroke-width="0.8"/>
<line x1="430.20" y1="76.51" x2="431.4" y2="76.51" stroke="#222" stroke-width="0.8"/>
<line x1="429.20" y1="70.97" x2="431.4" y2="70.97" stroke="#222" stroke-width="0.8"/>
<line x1="430.20" y1="65.44" x2="431.4" y2="65.44" stroke="#222" stroke-width="0.8"/>
<line x1="430.20" y1="59.90" x2="431.4" y2="59.90" stroke="#222" stroke-width="0.8"/>
<text x="428.80" y="140.20" font-size="6.6" textLength="3.30" lengthAdjust="spacingAndGlyphs" text-anchor="end" fill="#4a4a4a" stroke="#4a4a4a" stroke-width="0.12">0</text>
<text x="428.80" y="118.06" font-size="6.6" textLength="9.90" lengthAdjust="spacingAndGlyphs" text-anchor="end" fill="#4a4a4a" stroke="#4a4a4a" stroke-width="0.12">200</text>
<text x="428.80" y="95.91" font-size="6.6" textLength="9.90" lengthAdjust="spacingAndGlyphs" text-anchor="end" fill="#4a4a4a" stroke="#4a4a4a" stroke-width="0.12">400</text>
<text x="428.80" y="73.77" font-size="6.6" textLength="9.90" lengthAdjust="spacingAndGlyphs" text-anchor="end" fill="#4a4a4a" stroke="#4a4a4a" stroke-width="0.12">600</text>
<line x1="431.40" y1="137.4" x2="431.40" y2="139.60" stroke="#222" stroke-width="0.8"/>
<line x1="435.32" y1="137.4" x2="435.32" y2="138.60" stroke="#222" stroke-width="0.8"/>
<line x1="439.24" y1="137.4" x2="439.24" y2="138.60" stroke="#222" stroke-width="0.8"/>
<line x1="443.16" y1="137.4" x2="443.16" y2="138.60" stroke="#222" stroke-width="0.8"/>
<line x1="447.08" y1="137.4" x2="447.08" y2="139.60" stroke="#222" stroke-width="0.8"/>
<line x1="451.00" y1="137.4" x2="451.00" y2="138.60" stroke="#222" stroke-width="0.8"/>
<line x1="454.93" y1="137.4" x2="454.93" y2="138.60" stroke="#222" stroke-width="0.8"/>
<line x1="458.85" y1="137.4" x2="458.85" y2="138.60" stroke="#222" stroke-width="0.8"/>
<line x1="462.77" y1="137.4" x2="462.77" y2="139.60" stroke="#222" stroke-width="0.8"/>
<line x1="466.69" y1="137.4" x2="466.69" y2="138.60" stroke="#222" stroke-width="0.8"/>
<line x1="470.61" y1="137.4" x2="470.61" y2="138.60" stroke="#222" stroke-width="0.8"/>
<line x1="474.53" y1="137.4" x2="474.53" y2="138.60" stroke="#222" stroke-width="0.8"/>
<line x1="478.45" y1="137.4" x2="478.45" y2="139.60" stroke="#222" stroke-width="0.8"/>
<line x1="482.37" y1="137.4" x2="482.37" y2="138.60" stroke="#222" stroke-width="0.8"/>
<line x1="486.29" y1="137.4" x2="486.29" y2="138.60" stroke="#222" stroke-width="0.8"/>
<line x1="490.21" y1="137.4" x2="490.21" y2="138.60" stroke="#222" stroke-width="0.8"/>
<line x1="494.13" y1="137.4" x2="494.13" y2="139.60" stroke="#222" stroke-width="0.8"/>
<line x1="498.06" y1="137.4" x2="498.06" y2="138.60" stroke="#222" stroke-width="0.8"/>
<line x1="501.98" y1="137.4" x2="501.98" y2="138.60" stroke="#222" stroke-width="0.8"/>
<line x1="505.90" y1="137.4" x2="505.90" y2="138.60" stroke="#222" stroke-width="0.8"/>
<line x1="509.82" y1="137.4" x2="509.82" y2="139.60" stroke="#222" stroke-width="0.8"/>
<text x="431.40" y="148.00" font-size="6.6" textLength="3.30" lengthAdjust="spacingAndGlyphs" text-anchor="middle" fill="#4a4a4a" stroke="#4a4a4a" stroke-width="0.12">0</text>
<text x="447.08" y="148.00" font-size="6.6" textLength="9.90" lengthAdjust="spacingAndGlyphs" text-anchor="middle" fill="#4a4a4a" stroke="#4a4a4a" stroke-width="0.12">200</text>
<text x="462.77" y="148.00" font-size="6.6" textLength="9.90" lengthAdjust="spacingAndGlyphs" text-anchor="middle" fill="#4a4a4a" stroke="#4a4a4a" stroke-width="0.12">400</text>
<text x="478.45" y="148.00" font-size="6.6" textLength="9.90" lengthAdjust="spacingAndGlyphs" text-anchor="middle" fill="#4a4a4a" stroke="#4a4a4a" stroke-width="0.12">600</text>
<text x="494.13" y="148.00" font-size="6.6" textLength="9.90" lengthAdjust="spacingAndGlyphs" text-anchor="middle" fill="#4a4a4a" stroke="#4a4a4a" stroke-width="0.12">800</text>
<text x="509.82" y="148.00" font-size="6.6" textLength="13.20" lengthAdjust="spacingAndGlyphs" text-anchor="middle" fill="#4a4a4a" stroke="#4a4a4a" stroke-width="0.12">1000</text>
<path d="M43.70,316.40 L43.70,316.10 L44.50,316.04 L45.30,316.12 L46.10,316.01 L46.90,316.22 L47.70,315.85 L48.50,315.83 L49.30,315.91 L50.10,316.20 L50.90,315.97 L51.70,316.07 L52.50,316.10 L53.30,315.67 L54.10,315.63 L54.90,316.19 L55.70,315.68 L56.50,315.76 L57.30,315.81 L58.10,315.79 L58.90,315.48 L59.70,315.53 L60.50,315.29 L61.30,315.20 L62.10,315.42 L62.90,314.94 L63.70,314.71 L64.70,314.42 L65.70,314.33 L66.70,314.47 L67.70,314.30 L68.70,314.00 L69.70,312.85 L70.45,313.89 L71.20,314.18 L71.95,314.16 L72.70,314.81 L73.50,314.77 L74.30,314.94 L75.10,315.26 L75.90,315.05 L76.70,314.99 L77.53,315.41 L78.37,315.37 L79.20,315.25 L80.03,315.48 L80.87,315.20 L81.70,315.01 L82.50,315.09 L83.30,315.14 L84.10,314.93 L84.90,315.33 L85.70,315.06 L86.47,315.01 L87.23,314.71 L88.00,314.83 L88.70,311.82 L89.40,309.70 L90.15,302.75 L90.90,295.80 L91.65,288.80 L92.40,281.80 L93.20,274.85 L94.00,267.90 L95.10,257.40 L95.90,253.20 L96.70,257.40 L97.60,267.90 L98.25,274.85 L98.90,281.80 L100.00,295.80 L101.00,309.70 L101.60,312.30 L102.20,314.10 L102.95,314.47 L103.70,315.13 L104.70,315.59 L105.70,315.75 L106.51,315.87 L107.32,315.87 L108.13,315.68 L108.93,315.96 L109.74,316.02 L110.55,315.83 L111.36,316.02 L112.17,315.75 L112.98,315.66 L113.79,315.71 L114.60,315.90 L115.40,316.00 L116.21,315.97 L117.02,316.24 L117.83,315.83 L118.64,316.08 L119.45,316.10 L120.26,316.25 L121.07,316.06 L121.87,316.00 L122.68,316.13 L123.49,315.86 L124.30,316.10 L124.30,316.40 Z" fill="#bebebe" stroke="none"/>
<path d="M43.70,316.10 L44.50,316.04 L45.30,316.12 L46.10,316.01 L46.90,316.22 L47.70,315.85 L48.50,315.83 L49.30,315.91 L50.10,316.20 L50.90,315.97 L51.70,316.07 L52.50,316.10 L53.30,315.67 L54.10,315.63 L54.90,316.19 L55.70,315.68 L56.50,315.76 L57.30,315.81 L58.10,315.79 L58.90,315.48 L59.70,315.53 L60.50,315.29 L61.30,315.20 L62.10,315.42 L62.90,314.94 L63.70,314.71 L64.70,314.42 L65.70,314.33 L66.70,314.47 L67.70,314.30 L68.70,314.00 L69.70,312.85 L70.45,313.89 L71.20,314.18 L71.95,314.16 L72.70,314.81 L73.50,314.77 L74.30,314.94 L75.10,315.26 L75.90,315.05 L76.70,314.99 L77.53,315.41 L78.37,315.37 L79.20,315.25 L80.03,315.48 L80.87,315.20 L81.70,315.01 L82.50,315.09 L83.30,315.14 L84.10,314.93 L84.90,315.33 L85.70,315.06 L86.47,315.01 L87.23,314.71 L88.00,314.83 L88.70,311.82 L89.40,309.70 L90.15,302.75 L90.90,295.80 L91.65,288.80 L92.40,281.80 L93.20,274.85 L94.00,267.90 L95.10,257.40 L95.90,253.20 L96.70,257.40 L97.60,267.90 L98.25,274.85 L98.90,281.80 L100.00,295.80 L101.00,309.70 L101.60,312.30 L102.20,314.10 L102.95,314.47 L103.70,315.13 L104.70,315.59 L105.70,315.75 L106.51,315.87 L107.32,315.87 L108.13,315.68 L108.93,315.96 L109.74,316.02 L110.55,315.83 L111.36,316.02 L112.17,315.75 L112.98,315.66 L113.79,315.71 L114.60,315.90 L115.40,316.00 L116.21,315.97 L117.02,316.24 L117.83,315.83 L118.64,316.08 L119.45,316.10 L120.26,316.25 L121.07,316.06 L121.87,316.00 L122.68,316.13 L123.49,315.86 L124.30,316.10" fill="none" stroke="#1e1e1e" stroke-width="1.05" stroke-linejoin="round"/>
<polyline points="43.7,239.1 124.0,239.1 124.0,316.4" fill="none" stroke="#6a6a6a" stroke-width="1.1"/>
<polyline points="43.7,239.1 43.7,316.4 124.0,316.4" fill="none" stroke="#222" stroke-width="1.0"/>
<line x1="41.50" y1="316.40" x2="43.7" y2="316.40" stroke="#222" stroke-width="0.8"/>
<line x1="42.50" y1="309.96" x2="43.7" y2="309.96" stroke="#222" stroke-width="0.8"/>
<line x1="42.50" y1="303.52" x2="43.7" y2="303.52" stroke="#222" stroke-width="0.8"/>
<line x1="42.50" y1="297.07" x2="43.7" y2="297.07" stroke="#222" stroke-width="0.8"/>
<line x1="41.50" y1="290.63" x2="43.7" y2="290.63" stroke="#222" stroke-width="0.8"/>
<line x1="42.50" y1="284.19" x2="43.7" y2="284.19" stroke="#222" stroke-width="0.8"/>
<line x1="42.50" y1="277.75" x2="43.7" y2="277.75" stroke="#222" stroke-width="0.8"/>
<line x1="42.50" y1="271.31" x2="43.7" y2="271.31" stroke="#222" stroke-width="0.8"/>
<line x1="41.50" y1="264.87" x2="43.7" y2="264.87" stroke="#222" stroke-width="0.8"/>
<line x1="42.50" y1="258.43" x2="43.7" y2="258.43" stroke="#222" stroke-width="0.8"/>
<line x1="42.50" y1="251.98" x2="43.7" y2="251.98" stroke="#222" stroke-width="0.8"/>
<line x1="42.50" y1="245.54" x2="43.7" y2="245.54" stroke="#222" stroke-width="0.8"/>
<line x1="41.50" y1="239.10" x2="43.7" y2="239.10" stroke="#222" stroke-width="0.8"/>
<text x="41.10" y="318.70" font-size="6.6" textLength="3.30" lengthAdjust="spacingAndGlyphs" text-anchor="end" fill="#4a4a4a" stroke="#4a4a4a" stroke-width="0.12">0</text>
<text x="41.10" y="292.93" font-size="6.6" textLength="9.90" lengthAdjust="spacingAndGlyphs" text-anchor="end" fill="#4a4a4a" stroke="#4a4a4a" stroke-width="0.12">200</text>
<text x="41.10" y="267.17" font-size="6.6" textLength="9.90" lengthAdjust="spacingAndGlyphs" text-anchor="end" fill="#4a4a4a" stroke="#4a4a4a" stroke-width="0.12">400</text>
<text x="41.10" y="241.40" font-size="6.6" textLength="9.90" lengthAdjust="spacingAndGlyphs" text-anchor="end" fill="#4a4a4a" stroke="#4a4a4a" stroke-width="0.12">600</text>
<line x1="43.70" y1="316.4" x2="43.70" y2="318.60" stroke="#222" stroke-width="0.8"/>
<line x1="47.62" y1="316.4" x2="47.62" y2="317.60" stroke="#222" stroke-width="0.8"/>
<line x1="51.54" y1="316.4" x2="51.54" y2="317.60" stroke="#222" stroke-width="0.8"/>
<line x1="55.46" y1="316.4" x2="55.46" y2="317.60" stroke="#222" stroke-width="0.8"/>
<line x1="59.38" y1="316.4" x2="59.38" y2="318.60" stroke="#222" stroke-width="0.8"/>
<line x1="63.30" y1="316.4" x2="63.30" y2="317.60" stroke="#222" stroke-width="0.8"/>
<line x1="67.23" y1="316.4" x2="67.23" y2="317.60" stroke="#222" stroke-width="0.8"/>
<line x1="71.15" y1="316.4" x2="71.15" y2="317.60" stroke="#222" stroke-width="0.8"/>
<line x1="75.07" y1="316.4" x2="75.07" y2="318.60" stroke="#222" stroke-width="0.8"/>
<line x1="78.99" y1="316.4" x2="78.99" y2="317.60" stroke="#222" stroke-width="0.8"/>
<line x1="82.91" y1="316.4" x2="82.91" y2="317.60" stroke="#222" stroke-width="0.8"/>
<line x1="86.83" y1="316.4" x2="86.83" y2="317.60" stroke="#222" stroke-width="0.8"/>
<line x1="90.75" y1="316.4" x2="90.75" y2="318.60" stroke="#222" stroke-width="0.8"/>
<line x1="94.67" y1="316.4" x2="94.67" y2="317.60" stroke="#222" stroke-width="0.8"/>
<line x1="98.59" y1="316.4" x2="98.59" y2="317.60" stroke="#222" stroke-width="0.8"/>
<line x1="102.51" y1="316.4" x2="102.51" y2="317.60" stroke="#222" stroke-width="0.8"/>
<line x1="106.43" y1="316.4" x2="106.43" y2="318.60" stroke="#222" stroke-width="0.8"/>
<line x1="110.36" y1="316.4" x2="110.36" y2="317.60" stroke="#222" stroke-width="0.8"/>
<line x1="114.28" y1="316.4" x2="114.28" y2="317.60" stroke="#222" stroke-width="0.8"/>
<line x1="118.20" y1="316.4" x2="118.20" y2="317.60" stroke="#222" stroke-width="0.8"/>
<line x1="122.12" y1="316.4" x2="122.12" y2="318.60" stroke="#222" stroke-width="0.8"/>
<text x="43.70" y="326.30" font-size="6.6" textLength="3.30" lengthAdjust="spacingAndGlyphs" text-anchor="middle" fill="#4a4a4a" stroke="#4a4a4a" stroke-width="0.12">0</text>
<text x="59.38" y="326.30" font-size="6.6" textLength="9.90" lengthAdjust="spacingAndGlyphs" text-anchor="middle" fill="#4a4a4a" stroke="#4a4a4a" stroke-width="0.12">200</text>
<text x="75.07" y="326.30" font-size="6.6" textLength="9.90" lengthAdjust="spacingAndGlyphs" text-anchor="middle" fill="#4a4a4a" stroke="#4a4a4a" stroke-width="0.12">400</text>
<text x="90.75" y="326.30" font-size="6.6" textLength="9.90" lengthAdjust="spacingAndGlyphs" text-anchor="middle" fill="#4a4a4a" stroke="#4a4a4a" stroke-width="0.12">600</text>
<text x="106.43" y="326.30" font-size="6.6" textLength="9.90" lengthAdjust="spacingAndGlyphs" text-anchor="middle" fill="#4a4a4a" stroke="#4a4a4a" stroke-width="0.12">800</text>
<text x="122.12" y="326.30" font-size="6.6" textLength="13.20" lengthAdjust="spacingAndGlyphs" text-anchor="middle" fill="#4a4a4a" stroke="#4a4a4a" stroke-width="0.12">1000</text>
<path d="M141.90,316.40 L141.90,316.10 L142.70,316.12 L143.50,316.04 L144.30,315.81 L145.10,316.07 L145.90,316.03 L146.70,315.97 L147.50,316.20 L148.30,315.99 L149.10,315.90 L149.90,315.79 L150.70,316.20 L151.50,316.06 L152.30,316.17 L153.10,315.73 L153.90,315.78 L154.73,316.12 L155.57,315.51 L156.40,315.47 L157.23,315.61 L158.07,315.58 L158.90,315.81 L159.73,315.82 L160.57,315.45 L161.40,315.66 L162.23,315.52 L163.07,315.42 L163.90,315.48 L164.65,315.07 L165.40,314.94 L166.15,314.54 L166.90,314.59 L167.80,314.32 L168.70,314.20 L169.60,313.90 L170.50,314.43 L171.40,314.93 L172.28,314.60 L173.15,314.70 L174.03,314.90 L174.90,315.08 L175.68,315.30 L176.46,315.34 L177.23,315.29 L178.01,315.41 L178.79,314.98 L179.57,315.19 L180.34,314.91 L181.12,315.18 L181.90,314.83 L182.65,314.94 L183.40,315.50 L184.15,315.42 L184.90,315.05 L185.60,314.38 L186.30,312.96 L187.00,312.62 L187.70,309.27 L188.40,306.03 L189.10,302.80 L189.80,292.30 L190.50,281.80 L191.20,271.35 L191.90,260.90 L192.55,253.95 L193.20,247.00 L193.90,253.95 L194.60,260.90 L195.30,271.35 L196.00,281.80 L196.95,292.30 L197.90,302.80 L198.67,306.27 L199.43,309.73 L200.20,313.64 L200.90,313.60 L201.60,314.08 L202.30,314.91 L203.00,315.55 L203.95,315.60 L204.90,315.42 L205.70,315.56 L206.50,315.97 L207.30,315.91 L208.10,316.01 L208.90,316.05 L209.70,315.63 L210.50,316.02 L211.30,315.81 L212.10,315.90 L212.90,316.07 L213.70,315.76 L214.50,316.14 L215.30,315.85 L216.10,316.18 L216.90,316.02 L217.70,316.16 L218.50,316.15 L219.30,315.74 L220.10,315.86 L220.90,316.18 L221.70,315.85 L222.50,316.10 L222.50,316.40 Z" fill="#bebebe" stroke="none"/>
<path d="M141.90,316.10 L142.70,316.12 L143.50,316.04 L144.30,315.81 L145.10,316.07 L145.90,316.03 L146.70,315.97 L147.50,316.20 L148.30,315.99 L149.10,315.90 L149.90,315.79 L150.70,316.20 L151.50,316.06 L152.30,316.17 L153.10,315.73 L153.90,315.78 L154.73,316.12 L155.57,315.51 L156.40,315.47 L157.23,315.61 L158.07,315.58 L158.90,315.81 L159.73,315.82 L160.57,315.45 L161.40,315.66 L162.23,315.52 L163.07,315.42 L163.90,315.48 L164.65,315.07 L165.40,314.94 L166.15,314.54 L166.90,314.59 L167.80,314.32 L168.70,314.20 L169.60,313.90 L170.50,314.43 L171.40,314.93 L172.28,314.60 L173.15,314.70 L174.03,314.90 L174.90,315.08 L175.68,315.30 L176.46,315.34 L177.23,315.29 L178.01,315.41 L178.79,314.98 L179.57,315.19 L180.34,314.91 L181.12,315.18 L181.90,314.83 L182.65,314.94 L183.40,315.50 L184.15,315.42 L184.90,315.05 L185.60,314.38 L186.30,312.96 L187.00,312.62 L187.70,309.27 L188.40,306.03 L189.10,302.80 L189.80,292.30 L190.50,281.80 L191.20,271.35 L191.90,260.90 L192.55,253.95 L193.20,247.00 L193.90,253.95 L194.60,260.90 L195.30,271.35 L196.00,281.80 L196.95,292.30 L197.90,302.80 L198.67,306.27 L199.43,309.73 L200.20,313.64 L200.90,313.60 L201.60,314.08 L202.30,314.91 L203.00,315.55 L203.95,315.60 L204.90,315.42 L205.70,315.56 L206.50,315.97 L207.30,315.91 L208.10,316.01 L208.90,316.05 L209.70,315.63 L210.50,316.02 L211.30,315.81 L212.10,315.90 L212.90,316.07 L213.70,315.76 L214.50,316.14 L215.30,315.85 L216.10,316.18 L216.90,316.02 L217.70,316.16 L218.50,316.15 L219.30,315.74 L220.10,315.86 L220.90,316.18 L221.70,315.85 L222.50,316.10" fill="none" stroke="#1e1e1e" stroke-width="1.05" stroke-linejoin="round"/>
<polyline points="141.9,239.1 222.2,239.1 222.2,316.4" fill="none" stroke="#6a6a6a" stroke-width="1.1"/>
<polyline points="141.9,239.1 141.9,316.4 222.2,316.4" fill="none" stroke="#222" stroke-width="1.0"/>
<line x1="139.70" y1="316.40" x2="141.9" y2="316.40" stroke="#222" stroke-width="0.8"/>
<line x1="140.70" y1="309.96" x2="141.9" y2="309.96" stroke="#222" stroke-width="0.8"/>
<line x1="140.70" y1="303.52" x2="141.9" y2="303.52" stroke="#222" stroke-width="0.8"/>
<line x1="140.70" y1="297.07" x2="141.9" y2="297.07" stroke="#222" stroke-width="0.8"/>
<line x1="139.70" y1="290.63" x2="141.9" y2="290.63" stroke="#222" stroke-width="0.8"/>
<line x1="140.70" y1="284.19" x2="141.9" y2="284.19" stroke="#222" stroke-width="0.8"/>
<line x1="140.70" y1="277.75" x2="141.9" y2="277.75" stroke="#222" stroke-width="0.8"/>
<line x1="140.70" y1="271.31" x2="141.9" y2="271.31" stroke="#222" stroke-width="0.8"/>
<line x1="139.70" y1="264.87" x2="141.9" y2="264.87" stroke="#222" stroke-width="0.8"/>
<line x1="140.70" y1="258.43" x2="141.9" y2="258.43" stroke="#222" stroke-width="0.8"/>
<line x1="140.70" y1="251.98" x2="141.9" y2="251.98" stroke="#222" stroke-width="0.8"/>
<line x1="140.70" y1="245.54" x2="141.9" y2="245.54" stroke="#222" stroke-width="0.8"/>
<line x1="139.70" y1="239.10" x2="141.9" y2="239.10" stroke="#222" stroke-width="0.8"/>
<text x="139.30" y="318.70" font-size="6.6" textLength="3.30" lengthAdjust="spacingAndGlyphs" text-anchor="end" fill="#4a4a4a" stroke="#4a4a4a" stroke-width="0.12">0</text>
<text x="139.30" y="292.93" font-size="6.6" textLength="9.90" lengthAdjust="spacingAndGlyphs" text-anchor="end" fill="#4a4a4a" stroke="#4a4a4a" stroke-width="0.12">200</text>
<text x="139.30" y="267.17" font-size="6.6" textLength="9.90" lengthAdjust="spacingAndGlyphs" text-anchor="end" fill="#4a4a4a" stroke="#4a4a4a" stroke-width="0.12">400</text>
<text x="139.30" y="241.40" font-size="6.6" textLength="9.90" lengthAdjust="spacingAndGlyphs" text-anchor="end" fill="#4a4a4a" stroke="#4a4a4a" stroke-width="0.12">600</text>
<line x1="141.90" y1="316.4" x2="141.90" y2="318.60" stroke="#222" stroke-width="0.8"/>
<line x1="145.82" y1="316.4" x2="145.82" y2="317.60" stroke="#222" stroke-width="0.8"/>
<line x1="149.74" y1="316.4" x2="149.74" y2="317.60" stroke="#222" stroke-width="0.8"/>
<line x1="153.66" y1="316.4" x2="153.66" y2="317.60" stroke="#222" stroke-width="0.8"/>
<line x1="157.58" y1="316.4" x2="157.58" y2="318.60" stroke="#222" stroke-width="0.8"/>
<line x1="161.50" y1="316.4" x2="161.50" y2="317.60" stroke="#222" stroke-width="0.8"/>
<line x1="165.43" y1="316.4" x2="165.43" y2="317.60" stroke="#222" stroke-width="0.8"/>
<line x1="169.35" y1="316.4" x2="169.35" y2="317.60" stroke="#222" stroke-width="0.8"/>
<line x1="173.27" y1="316.4" x2="173.27" y2="318.60" stroke="#222" stroke-width="0.8"/>
<line x1="177.19" y1="316.4" x2="177.19" y2="317.60" stroke="#222" stroke-width="0.8"/>
<line x1="181.11" y1="316.4" x2="181.11" y2="317.60" stroke="#222" stroke-width="0.8"/>
<line x1="185.03" y1="316.4" x2="185.03" y2="317.60" stroke="#222" stroke-width="0.8"/>
<line x1="188.95" y1="316.4" x2="188.95" y2="318.60" stroke="#222" stroke-width="0.8"/>
<line x1="192.87" y1="316.4" x2="192.87" y2="317.60" stroke="#222" stroke-width="0.8"/>
<line x1="196.79" y1="316.4" x2="196.79" y2="317.60" stroke="#222" stroke-width="0.8"/>
<line x1="200.71" y1="316.4" x2="200.71" y2="317.60" stroke="#222" stroke-width="0.8"/>
<line x1="204.63" y1="316.4" x2="204.63" y2="318.60" stroke="#222" stroke-width="0.8"/>
<line x1="208.56" y1="316.4" x2="208.56" y2="317.60" stroke="#222" stroke-width="0.8"/>
<line x1="212.48" y1="316.4" x2="212.48" y2="317.60" stroke="#222" stroke-width="0.8"/>
<line x1="216.40" y1="316.4" x2="216.40" y2="317.60" stroke="#222" stroke-width="0.8"/>
<line x1="220.32" y1="316.4" x2="220.32" y2="318.60" stroke="#222" stroke-width="0.8"/>
<text x="141.90" y="326.30" font-size="6.6" textLength="3.30" lengthAdjust="spacingAndGlyphs" text-anchor="middle" fill="#4a4a4a" stroke="#4a4a4a" stroke-width="0.12">0</text>
<text x="157.58" y="326.30" font-size="6.6" textLength="9.90" lengthAdjust="spacingAndGlyphs" text-anchor="middle" fill="#4a4a4a" stroke="#4a4a4a" stroke-width="0.12">200</text>
<text x="173.27" y="326.30" font-size="6.6" textLength="9.90" lengthAdjust="spacingAndGlyphs" text-anchor="middle" fill="#4a4a4a" stroke="#4a4a4a" stroke-width="0.12">400</text>
<text x="188.95" y="326.30" font-size="6.6" textLength="9.90" lengthAdjust="spacingAndGlyphs" text-anchor="middle" fill="#4a4a4a" stroke="#4a4a4a" stroke-width="0.12">600</text>
<text x="204.63" y="326.30" font-size="6.6" textLength="9.90" lengthAdjust="spacingAndGlyphs" text-anchor="middle" fill="#4a4a4a" stroke="#4a4a4a" stroke-width="0.12">800</text>
<text x="220.32" y="326.30" font-size="6.6" textLength="13.20" lengthAdjust="spacingAndGlyphs" text-anchor="middle" fill="#4a4a4a" stroke="#4a4a4a" stroke-width="0.12">1000</text>
<path d="M238.20,316.40 L238.20,316.10 L239.00,316.10 L239.80,315.98 L240.60,315.96 L241.40,316.25 L242.20,316.25 L243.00,316.10 L243.80,316.14 L244.60,315.81 L245.40,315.87 L246.20,315.91 L247.00,315.92 L247.80,315.84 L248.60,316.14 L249.40,315.95 L250.20,316.10 L251.00,315.61 L251.80,316.06 L252.60,315.56 L253.40,315.96 L254.20,315.54 L255.00,315.70 L255.82,315.49 L256.63,315.06 L257.45,315.39 L258.27,315.20 L259.08,314.52 L259.90,314.59 L260.65,314.55 L261.40,313.71 L262.15,313.28 L262.90,313.79 L263.55,310.95 L264.20,308.50 L265.40,301.20 L266.60,296.25 L267.20,298.65 L267.80,301.20 L269.00,309.80 L270.20,313.76 L270.97,313.54 L271.75,313.18 L272.52,313.59 L273.30,313.00 L274.25,313.85 L275.20,313.92 L276.00,313.33 L276.80,313.76 L277.60,313.78 L278.40,313.46 L279.20,313.42 L280.20,313.22 L281.20,313.31 L282.05,311.93 L282.90,311.01 L283.60,310.04 L284.30,309.56 L285.20,305.50 L286.10,301.20 L286.70,295.10 L287.30,289.00 L288.50,280.50 L289.40,274.40 L290.40,270.70 L291.30,274.40 L292.20,281.70 L293.00,287.20 L293.80,292.70 L294.50,298.80 L295.20,304.90 L296.15,308.85 L297.10,312.96 L297.90,313.80 L298.70,314.42 L299.50,315.30 L300.33,315.70 L301.17,315.69 L302.00,315.68 L302.80,315.62 L303.60,315.46 L304.40,315.67 L305.20,315.98 L306.00,315.53 L306.80,315.78 L307.60,315.76 L308.40,315.96 L309.20,315.86 L310.00,315.91 L310.80,315.70 L311.60,316.12 L312.40,315.88 L313.20,316.13 L314.00,315.84 L314.80,316.25 L315.60,316.14 L316.40,316.12 L317.20,315.97 L318.00,316.25 L318.80,316.10 L318.80,316.40 Z" fill="#bebebe" stroke="none"/>
<path d="M238.20,316.10 L239.00,316.10 L239.80,315.98 L240.60,315.96 L241.40,316.25 L242.20,316.25 L243.00,316.10 L243.80,316.14 L244.60,315.81 L245.40,315.87 L246.20,315.91 L247.00,315.92 L247.80,315.84 L248.60,316.14 L249.40,315.95 L250.20,316.10 L251.00,315.61 L251.80,316.06 L252.60,315.56 L253.40,315.96 L254.20,315.54 L255.00,315.70 L255.82,315.49 L256.63,315.06 L257.45,315.39 L258.27,315.20 L259.08,314.52 L259.90,314.59 L260.65,314.55 L261.40,313.71 L262.15,313.28 L262.90,313.79 L263.55,310.95 L264.20,308.50 L265.40,301.20 L266.60,296.25 L267.20,298.65 L267.80,301.20 L269.00,309.80 L270.20,313.76 L270.97,313.54 L271.75,313.18 L272.52,313.59 L273.30,313.00 L274.25,313.85 L275.20,313.92 L276.00,313.33 L276.80,313.76 L277.60,313.78 L278.40,313.46 L279.20,313.42 L280.20,313.22 L281.20,313.31 L282.05,311.93 L282.90,311.01 L283.60,310.04 L284.30,309.56 L285.20,305.50 L286.10,301.20 L286.70,295.10 L287.30,289.00 L288.50,280.50 L289.40,274.40 L290.40,270.70 L291.30,274.40 L292.20,281.70 L293.00,287.20 L293.80,292.70 L294.50,298.80 L295.20,304.90 L296.15,308.85 L297.10,312.96 L297.90,313.80 L298.70,314.42 L299.50,315.30 L300.33,315.70 L301.17,315.69 L302.00,315.68 L302.80,315.62 L303.60,315.46 L304.40,315.67 L305.20,315.98 L306.00,315.53 L306.80,315.78 L307.60,315.76 L308.40,315.96 L309.20,315.86 L310.00,315.91 L310.80,315.70 L311.60,316.12 L312.40,315.88 L313.20,316.13 L314.00,315.84 L314.80,316.25 L315.60,316.14 L316.40,316.12 L317.20,315.97 L318.00,316.25 L318.80,316.10" fill="none" stroke="#1e1e1e" stroke-width="1.05" stroke-linejoin="round"/>
<polyline points="238.2,239.1 318.5,239.1 318.5,316.4" fill="none" stroke="#6a6a6a" stroke-width="1.1"/>
<polyline points="238.2,239.1 238.2,316.4 318.5,316.4" fill="none" stroke="#222" stroke-width="1.0"/>
<line x1="236.00" y1="316.40" x2="238.2" y2="316.40" stroke="#222" stroke-width="0.8"/>
<line x1="237.00" y1="309.96" x2="238.2" y2="309.96" stroke="#222" stroke-width="0.8"/>
<line x1="237.00" y1="303.52" x2="238.2" y2="303.52" stroke="#222" stroke-width="0.8"/>
<line x1="237.00" y1="297.07" x2="238.2" y2="297.07" stroke="#222" stroke-width="0.8"/>
<line x1="236.00" y1="290.63" x2="238.2" y2="290.63" stroke="#222" stroke-width="0.8"/>
<line x1="237.00" y1="284.19" x2="238.2" y2="284.19" stroke="#222" stroke-width="0.8"/>
<line x1="237.00" y1="277.75" x2="238.2" y2="277.75" stroke="#222" stroke-width="0.8"/>
<line x1="237.00" y1="271.31" x2="238.2" y2="271.31" stroke="#222" stroke-width="0.8"/>
<line x1="236.00" y1="264.87" x2="238.2" y2="264.87" stroke="#222" stroke-width="0.8"/>
<line x1="237.00" y1="258.43" x2="238.2" y2="258.43" stroke="#222" stroke-width="0.8"/>
<line x1="237.00" y1="251.98" x2="238.2" y2="251.98" stroke="#222" stroke-width="0.8"/>
<line x1="237.00" y1="245.54" x2="238.2" y2="245.54" stroke="#222" stroke-width="0.8"/>
<line x1="236.00" y1="239.10" x2="238.2" y2="239.10" stroke="#222" stroke-width="0.8"/>
<text x="235.60" y="318.70" font-size="6.6" textLength="3.30" lengthAdjust="spacingAndGlyphs" text-anchor="end" fill="#4a4a4a" stroke="#4a4a4a" stroke-width="0.12">0</text>
<text x="235.60" y="292.93" font-size="6.6" textLength="9.90" lengthAdjust="spacingAndGlyphs" text-anchor="end" fill="#4a4a4a" stroke="#4a4a4a" stroke-width="0.12">200</text>
<text x="235.60" y="267.17" font-size="6.6" textLength="9.90" lengthAdjust="spacingAndGlyphs" text-anchor="end" fill="#4a4a4a" stroke="#4a4a4a" stroke-width="0.12">400</text>
<text x="235.60" y="241.40" font-size="6.6" textLength="9.90" lengthAdjust="spacingAndGlyphs" text-anchor="end" fill="#4a4a4a" stroke="#4a4a4a" stroke-width="0.12">600</text>
<line x1="238.20" y1="316.4" x2="238.20" y2="318.60" stroke="#222" stroke-width="0.8"/>
<line x1="242.12" y1="316.4" x2="242.12" y2="317.60" stroke="#222" stroke-width="0.8"/>
<line x1="246.04" y1="316.4" x2="246.04" y2="317.60" stroke="#222" stroke-width="0.8"/>
<line x1="249.96" y1="316.4" x2="249.96" y2="317.60" stroke="#222" stroke-width="0.8"/>
<line x1="253.88" y1="316.4" x2="253.88" y2="318.60" stroke="#222" stroke-width="0.8"/>
<line x1="257.80" y1="316.4" x2="257.80" y2="317.60" stroke="#222" stroke-width="0.8"/>
<line x1="261.73" y1="316.4" x2="261.73" y2="317.60" stroke="#222" stroke-width="0.8"/>
<line x1="265.65" y1="316.4" x2="265.65" y2="317.60" stroke="#222" stroke-width="0.8"/>
<line x1="269.57" y1="316.4" x2="269.57" y2="318.60" stroke="#222" stroke-width="0.8"/>
<line x1="273.49" y1="316.4" x2="273.49" y2="317.60" stroke="#222" stroke-width="0.8"/>
<line x1="277.41" y1="316.4" x2="277.41" y2="317.60" stroke="#222" stroke-width="0.8"/>
<line x1="281.33" y1="316.4" x2="281.33" y2="317.60" stroke="#222" stroke-width="0.8"/>
<line x1="285.25" y1="316.4" x2="285.25" y2="318.60" stroke="#222" stroke-width="0.8"/>
<line x1="289.17" y1="316.4" x2="289.17" y2="317.60" stroke="#222" stroke-width="0.8"/>
<line x1="293.09" y1="316.4" x2="293.09" y2="317.60" stroke="#222" stroke-width="0.8"/>
<line x1="297.01" y1="316.4" x2="297.01" y2="317.60" stroke="#222" stroke-width="0.8"/>
<line x1="300.93" y1="316.4" x2="300.93" y2="318.60" stroke="#222" stroke-width="0.8"/>
<line x1="304.86" y1="316.4" x2="304.86" y2="317.60" stroke="#222" stroke-width="0.8"/>
<line x1="308.78" y1="316.4" x2="308.78" y2="317.60" stroke="#222" stroke-width="0.8"/>
<line x1="312.70" y1="316.4" x2="312.70" y2="317.60" stroke="#222" stroke-width="0.8"/>
<line x1="316.62" y1="316.4" x2="316.62" y2="318.60" stroke="#222" stroke-width="0.8"/>
<text x="238.20" y="326.30" font-size="6.6" textLength="3.30" lengthAdjust="spacingAndGlyphs" text-anchor="middle" fill="#4a4a4a" stroke="#4a4a4a" stroke-width="0.12">0</text>
<text x="253.88" y="326.30" font-size="6.6" textLength="9.90" lengthAdjust="spacingAndGlyphs" text-anchor="middle" fill="#4a4a4a" stroke="#4a4a4a" stroke-width="0.12">200</text>
<text x="269.57" y="326.30" font-size="6.6" textLength="9.90" lengthAdjust="spacingAndGlyphs" text-anchor="middle" fill="#4a4a4a" stroke="#4a4a4a" stroke-width="0.12">400</text>
<text x="285.25" y="326.30" font-size="6.6" textLength="9.90" lengthAdjust="spacingAndGlyphs" text-anchor="middle" fill="#4a4a4a" stroke="#4a4a4a" stroke-width="0.12">600</text>
<text x="300.93" y="326.30" font-size="6.6" textLength="9.90" lengthAdjust="spacingAndGlyphs" text-anchor="middle" fill="#4a4a4a" stroke="#4a4a4a" stroke-width="0.12">800</text>
<text x="316.62" y="326.30" font-size="6.6" textLength="13.20" lengthAdjust="spacingAndGlyphs" text-anchor="middle" fill="#4a4a4a" stroke="#4a4a4a" stroke-width="0.12">1000</text>
<path d="M334.00,316.40 L334.00,316.10 L334.80,316.23 L335.60,315.96 L336.40,315.95 L337.20,315.84 L338.00,316.22 L338.80,316.18 L339.60,316.22 L340.40,316.16 L341.20,315.84 L342.00,316.19 L342.80,315.93 L343.60,316.11 L344.40,316.05 L345.20,315.95 L346.00,315.70 L346.75,315.80 L347.50,316.12 L348.25,315.92 L349.00,315.96 L349.75,315.49 L350.50,315.49 L351.25,315.45 L352.00,315.40 L352.83,315.39 L353.67,315.20 L354.50,315.22 L355.33,315.48 L356.17,315.06 L357.00,315.21 L357.74,314.91 L358.48,314.88 L359.22,314.82 L359.96,314.72 L360.70,314.54 L361.60,314.86 L362.50,315.23 L363.38,314.83 L364.25,314.87 L365.12,314.78 L366.00,314.99 L366.80,315.09 L367.60,314.99 L368.40,315.38 L369.20,315.07 L370.00,315.23 L370.84,315.27 L371.68,315.14 L372.52,314.83 L373.36,314.87 L374.20,314.62 L374.98,314.01 L375.75,313.65 L376.52,313.42 L377.30,312.51 L378.15,309.05 L379.00,305.60 L379.70,297.25 L380.40,288.90 L381.10,278.40 L381.80,267.90 L382.55,260.25 L383.30,252.60 L384.30,247.70 L385.30,254.00 L385.90,262.35 L386.50,270.70 L387.30,281.85 L388.10,293.00 L388.80,298.10 L389.50,303.20 L390.20,308.30 L390.90,310.77 L391.60,312.80 L392.30,314.78 L393.18,314.98 L394.05,315.46 L394.93,315.41 L395.80,315.53 L396.62,315.88 L397.43,315.69 L398.25,315.58 L399.07,316.13 L399.89,316.08 L400.70,315.69 L401.52,315.69 L402.34,315.82 L403.16,316.12 L403.97,315.98 L404.79,315.72 L405.61,315.72 L406.43,315.79 L407.24,316.16 L408.06,315.78 L408.88,316.08 L409.70,315.89 L410.51,316.25 L411.33,315.77 L412.15,316.00 L412.97,315.94 L413.78,316.25 L414.60,316.10 L414.60,316.40 Z" fill="#bebebe" stroke="none"/>
<path d="M334.00,316.10 L334.80,316.23 L335.60,315.96 L336.40,315.95 L337.20,315.84 L338.00,316.22 L338.80,316.18 L339.60,316.22 L340.40,316.16 L341.20,315.84 L342.00,316.19 L342.80,315.93 L343.60,316.11 L344.40,316.05 L345.20,315.95 L346.00,315.70 L346.75,315.80 L347.50,316.12 L348.25,315.92 L349.00,315.96 L349.75,315.49 L350.50,315.49 L351.25,315.45 L352.00,315.40 L352.83,315.39 L353.67,315.20 L354.50,315.22 L355.33,315.48 L356.17,315.06 L357.00,315.21 L357.74,314.91 L358.48,314.88 L359.22,314.82 L359.96,314.72 L360.70,314.54 L361.60,314.86 L362.50,315.23 L363.38,314.83 L364.25,314.87 L365.12,314.78 L366.00,314.99 L366.80,315.09 L367.60,314.99 L368.40,315.38 L369.20,315.07 L370.00,315.23 L370.84,315.27 L371.68,315.14 L372.52,314.83 L373.36,314.87 L374.20,314.62 L374.98,314.01 L375.75,313.65 L376.52,313.42 L377.30,312.51 L378.15,309.05 L379.00,305.60 L379.70,297.25 L380.40,288.90 L381.10,278.40 L381.80,267.90 L382.55,260.25 L383.30,252.60 L384.30,247.70 L385.30,254.00 L385.90,262.35 L386.50,270.70 L387.30,281.85 L388.10,293.00 L388.80,298.10 L389.50,303.20 L390.20,308.30 L390.90,310.77 L391.60,312.80 L392.30,314.78 L393.18,314.98 L394.05,315.46 L394.93,315.41 L395.80,315.53 L396.62,315.88 L397.43,315.69 L398.25,315.58 L399.07,316.13 L399.89,316.08 L400.70,315.69 L401.52,315.69 L402.34,315.82 L403.16,316.12 L403.97,315.98 L404.79,315.72 L405.61,315.72 L406.43,315.79 L407.24,316.16 L408.06,315.78 L408.88,316.08 L409.70,315.89 L410.51,316.25 L411.33,315.77 L412.15,316.00 L412.97,315.94 L413.78,316.25 L414.60,316.10" fill="none" stroke="#1e1e1e" stroke-width="1.05" stroke-linejoin="round"/>
<polyline points="334.0,239.1 414.3,239.1 414.3,316.4" fill="none" stroke="#6a6a6a" stroke-width="1.1"/>
<polyline points="334.0,239.1 334.0,316.4 414.3,316.4" fill="none" stroke="#222" stroke-width="1.0"/>
<line x1="331.80" y1="316.40" x2="334.0" y2="316.40" stroke="#222" stroke-width="0.8"/>
<line x1="332.80" y1="311.57" x2="334.0" y2="311.57" stroke="#222" stroke-width="0.8"/>
<line x1="332.80" y1="306.74" x2="334.0" y2="306.74" stroke="#222" stroke-width="0.8"/>
<line x1="332.80" y1="301.91" x2="334.0" y2="301.91" stroke="#222" stroke-width="0.8"/>
<line x1="331.80" y1="297.07" x2="334.0" y2="297.07" stroke="#222" stroke-width="0.8"/>
<line x1="332.80" y1="292.24" x2="334.0" y2="292.24" stroke="#222" stroke-width="0.8"/>
<line x1="332.80" y1="287.41" x2="334.0" y2="287.41" stroke="#222" stroke-width="0.8"/>
<line x1="332.80" y1="282.58" x2="334.0" y2="282.58" stroke="#222" stroke-width="0.8"/>
<line x1="331.80" y1="277.75" x2="334.0" y2="277.75" stroke="#222" stroke-width="0.8"/>
<line x1="332.80" y1="272.92" x2="334.0" y2="272.92" stroke="#222" stroke-width="0.8"/>
<line x1="332.80" y1="268.09" x2="334.0" y2="268.09" stroke="#222" stroke-width="0.8"/>
<line x1="332.80" y1="263.26" x2="334.0" y2="263.26" stroke="#222" stroke-width="0.8"/>
<line x1="331.80" y1="258.43" x2="334.0" y2="258.43" stroke="#222" stroke-width="0.8"/>
<line x1="332.80" y1="253.59" x2="334.0" y2="253.59" stroke="#222" stroke-width="0.8"/>
<line x1="332.80" y1="248.76" x2="334.0" y2="248.76" stroke="#222" stroke-width="0.8"/>
<line x1="332.80" y1="243.93" x2="334.0" y2="243.93" stroke="#222" stroke-width="0.8"/>
<line x1="331.80" y1="239.10" x2="334.0" y2="239.10" stroke="#222" stroke-width="0.8"/>
<text x="331.40" y="318.70" font-size="6.6" textLength="3.30" lengthAdjust="spacingAndGlyphs" text-anchor="end" fill="#4a4a4a" stroke="#4a4a4a" stroke-width="0.12">0</text>
<text x="331.40" y="299.38" font-size="6.6" textLength="9.90" lengthAdjust="spacingAndGlyphs" text-anchor="end" fill="#4a4a4a" stroke="#4a4a4a" stroke-width="0.12">200</text>
<text x="331.40" y="280.05" font-size="6.6" textLength="9.90" lengthAdjust="spacingAndGlyphs" text-anchor="end" fill="#4a4a4a" stroke="#4a4a4a" stroke-width="0.12">400</text>
<text x="331.40" y="260.73" font-size="6.6" textLength="9.90" lengthAdjust="spacingAndGlyphs" text-anchor="end" fill="#4a4a4a" stroke="#4a4a4a" stroke-width="0.12">600</text>
<text x="331.40" y="241.40" font-size="6.6" textLength="9.90" lengthAdjust="spacingAndGlyphs" text-anchor="end" fill="#4a4a4a" stroke="#4a4a4a" stroke-width="0.12">800</text>
<line x1="334.00" y1="316.4" x2="334.00" y2="318.60" stroke="#222" stroke-width="0.8"/>
<line x1="337.92" y1="316.4" x2="337.92" y2="317.60" stroke="#222" stroke-width="0.8"/>
<line x1="341.84" y1="316.4" x2="341.84" y2="317.60" stroke="#222" stroke-width="0.8"/>
<line x1="345.76" y1="316.4" x2="345.76" y2="317.60" stroke="#222" stroke-width="0.8"/>
<line x1="349.68" y1="316.4" x2="349.68" y2="318.60" stroke="#222" stroke-width="0.8"/>
<line x1="353.60" y1="316.4" x2="353.60" y2="317.60" stroke="#222" stroke-width="0.8"/>
<line x1="357.53" y1="316.4" x2="357.53" y2="317.60" stroke="#222" stroke-width="0.8"/>
<line x1="361.45" y1="316.4" x2="361.45" y2="317.60" stroke="#222" stroke-width="0.8"/>
<line x1="365.37" y1="316.4" x2="365.37" y2="318.60" stroke="#222" stroke-width="0.8"/>
<line x1="369.29" y1="316.4" x2="369.29" y2="317.60" stroke="#222" stroke-width="0.8"/>
<line x1="373.21" y1="316.4" x2="373.21" y2="317.60" stroke="#222" stroke-width="0.8"/>
<line x1="377.13" y1="316.4" x2="377.13" y2="317.60" stroke="#222" stroke-width="0.8"/>
<line x1="381.05" y1="316.4" x2="381.05" y2="318.60" stroke="#222" stroke-width="0.8"/>
<line x1="384.97" y1="316.4" x2="384.97" y2="317.60" stroke="#222" stroke-width="0.8"/>
<line x1="388.89" y1="316.4" x2="388.89" y2="317.60" stroke="#222" stroke-width="0.8"/>
<line x1="392.81" y1="316.4" x2="392.81" y2="317.60" stroke="#222" stroke-width="0.8"/>
<line x1="396.73" y1="316.4" x2="396.73" y2="318.60" stroke="#222" stroke-width="0.8"/>
<line x1="400.66" y1="316.4" x2="400.66" y2="317.60" stroke="#222" stroke-width="0.8"/>
<line x1="404.58" y1="316.4" x2="404.58" y2="317.60" stroke="#222" stroke-width="0.8"/>
<line x1="408.50" y1="316.4" x2="408.50" y2="317.60" stroke="#222" stroke-width="0.8"/>
<line x1="412.42" y1="316.4" x2="412.42" y2="318.60" stroke="#222" stroke-width="0.8"/>
<text x="334.00" y="326.30" font-size="6.6" textLength="3.30" lengthAdjust="spacingAndGlyphs" text-anchor="middle" fill="#4a4a4a" stroke="#4a4a4a" stroke-width="0.12">0</text>
<text x="349.68" y="326.30" font-size="6.6" textLength="9.90" lengthAdjust="spacingAndGlyphs" text-anchor="middle" fill="#4a4a4a" stroke="#4a4a4a" stroke-width="0.12">200</text>
<text x="365.37" y="326.30" font-size="6.6" textLength="9.90" lengthAdjust="spacingAndGlyphs" text-anchor="middle" fill="#4a4a4a" stroke="#4a4a4a" stroke-width="0.12">400</text>
<text x="381.05" y="326.30" font-size="6.6" textLength="9.90" lengthAdjust="spacingAndGlyphs" text-anchor="middle" fill="#4a4a4a" stroke="#4a4a4a" stroke-width="0.12">600</text>
<text x="396.73" y="326.30" font-size="6.6" textLength="9.90" lengthAdjust="spacingAndGlyphs" text-anchor="middle" fill="#4a4a4a" stroke="#4a4a4a" stroke-width="0.12">800</text>
<text x="412.42" y="326.30" font-size="6.6" textLength="13.20" lengthAdjust="spacingAndGlyphs" text-anchor="middle" fill="#4a4a4a" stroke="#4a4a4a" stroke-width="0.12">1000</text>
<path d="M431.40,316.40 L431.40,316.10 L432.20,316.25 L433.00,315.95 L433.80,315.97 L434.60,315.78 L435.40,316.17 L436.20,316.17 L437.00,315.87 L437.80,315.90 L438.60,316.10 L439.40,315.86 L440.20,316.02 L441.00,315.77 L441.80,316.16 L442.60,316.08 L443.40,315.66 L444.22,315.95 L445.05,315.97 L445.88,315.60 L446.70,315.67 L447.52,315.92 L448.35,315.64 L449.17,315.54 L450.00,315.80 L450.74,315.27 L451.48,315.35 L452.22,314.98 L452.96,314.89 L453.70,314.58 L454.45,313.86 L455.20,313.96 L455.95,313.18 L456.70,313.46 L457.60,312.53 L458.50,311.44 L459.45,312.34 L460.40,313.60 L461.15,313.31 L461.90,313.47 L462.65,314.10 L463.40,314.24 L464.14,313.72 L464.88,313.87 L465.62,314.10 L466.36,313.80 L467.10,313.97 L468.00,313.50 L468.90,313.85 L469.80,314.16 L470.70,313.81 L471.44,314.26 L472.18,313.97 L472.92,314.09 L473.66,313.28 L474.40,313.79 L475.30,312.47 L476.20,312.11 L477.00,309.48 L477.80,307.30 L478.55,301.80 L479.30,296.30 L479.90,288.40 L480.50,280.50 L481.50,264.60 L482.70,255.50 L483.30,258.85 L483.90,262.20 L484.65,271.35 L485.40,280.50 L486.30,289.65 L487.20,298.80 L488.00,304.30 L488.80,309.80 L489.50,311.16 L490.20,312.96 L490.90,314.63 L491.65,314.88 L492.40,315.19 L493.15,315.37 L493.90,315.94 L494.69,315.73 L495.47,315.89 L496.26,315.53 L497.05,315.51 L497.83,316.05 L498.62,316.02 L499.41,315.70 L500.20,315.80 L500.98,316.15 L501.77,315.75 L502.56,315.62 L503.34,315.95 L504.13,316.02 L504.92,315.90 L505.70,315.70 L506.49,316.12 L507.28,316.11 L508.07,316.20 L508.85,315.95 L509.64,316.07 L510.43,316.21 L511.21,316.15 L512.00,316.10 L512.00,316.40 Z" fill="#bebebe" stroke="none"/>
<path d="M431.40,316.10 L432.20,316.25 L433.00,315.95 L433.80,315.97 L434.60,315.78 L435.40,316.17 L436.20,316.17 L437.00,315.87 L437.80,315.90 L438.60,316.10 L439.40,315.86 L440.20,316.02 L441.00,315.77 L441.80,316.16 L442.60,316.08 L443.40,315.66 L444.22,315.95 L445.05,315.97 L445.88,315.60 L446.70,315.67 L447.52,315.92 L448.35,315.64 L449.17,315.54 L450.00,315.80 L450.74,315.27 L451.48,315.35 L452.22,314.98 L452.96,314.89 L453.70,314.58 L454.45,313.86 L455.20,313.96 L455.95,313.18 L456.70,313.46 L457.60,312.53 L458.50,311.44 L459.45,312.34 L460.40,313.60 L461.15,313.31 L461.90,313.47 L462.65,314.10 L463.40,314.24 L464.14,313.72 L464.88,313.87 L465.62,314.10 L466.36,313.80 L467.10,313.97 L468.00,313.50 L468.90,313.85 L469.80,314.16 L470.70,313.81 L471.44,314.26 L472.18,313.97 L472.92,314.09 L473.66,313.28 L474.40,313.79 L475.30,312.47 L476.20,312.11 L477.00,309.48 L477.80,307.30 L478.55,301.80 L479.30,296.30 L479.90,288.40 L480.50,280.50 L481.50,264.60 L482.70,255.50 L483.30,258.85 L483.90,262.20 L484.65,271.35 L485.40,280.50 L486.30,289.65 L487.20,298.80 L488.00,304.30 L488.80,309.80 L489.50,311.16 L490.20,312.96 L490.90,314.63 L491.65,314.88 L492.40,315.19 L493.15,315.37 L493.90,315.94 L494.69,315.73 L495.47,315.89 L496.26,315.53 L497.05,315.51 L497.83,316.05 L498.62,316.02 L499.41,315.70 L500.20,315.80 L500.98,316.15 L501.77,315.75 L502.56,315.62 L503.34,315.95 L504.13,316.02 L504.92,315.90 L505.70,315.70 L506.49,316.12 L507.28,316.11 L508.07,316.20 L508.85,315.95 L509.64,316.07 L510.43,316.21 L511.21,316.15 L512.00,316.10" fill="none" stroke="#1e1e1e" stroke-width="1.05" stroke-linejoin="round"/>
<polyline points="431.4,239.1 511.7,239.1 511.7,316.4" fill="none" stroke="#6a6a6a" stroke-width="1.1"/>
<polyline points="431.4,239.1 431.4,316.4 511.7,316.4" fill="none" stroke="#222" stroke-width="1.0"/>
<line x1="429.20" y1="316.40" x2="431.4" y2="316.40" stroke="#222" stroke-width="0.8"/>
<line x1="430.20" y1="309.96" x2="431.4" y2="309.96" stroke="#222" stroke-width="0.8"/>
<line x1="430.20" y1="303.52" x2="431.4" y2="303.52" stroke="#222" stroke-width="0.8"/>
<line x1="430.20" y1="297.07" x2="431.4" y2="297.07" stroke="#222" stroke-width="0.8"/>
<line x1="429.20" y1="290.63" x2="431.4" y2="290.63" stroke="#222" stroke-width="0.8"/>
<line x1="430.20" y1="284.19" x2="431.4" y2="284.19" stroke="#222" stroke-width="0.8"/>
<line x1="430.20" y1="277.75" x2="431.4" y2="277.75" stroke="#222" stroke-width="0.8"/>
<line x1="430.20" y1="271.31" x2="431.4" y2="271.31" stroke="#222" stroke-width="0.8"/>
<line x1="429.20" y1="264.87" x2="431.4" y2="264.87" stroke="#222" stroke-width="0.8"/>
<line x1="430.20" y1="258.43" x2="431.4" y2="258.43" stroke="#222" stroke-width="0.8"/>
<line x1="430.20" y1="251.98" x2="431.4" y2="251.98" stroke="#222" stroke-width="0.8"/>
<line x1="430.20" y1="245.54" x2="431.4" y2="245.54" stroke="#222" stroke-width="0.8"/>
<line x1="429.20" y1="239.10" x2="431.4" y2="239.10" stroke="#222" stroke-width="0.8"/>
<text x="428.80" y="318.70" font-size="6.6" textLength="3.30" lengthAdjust="spacingAndGlyphs" text-anchor="end" fill="#4a4a4a" stroke="#4a4a4a" stroke-width="0.12">0</text>
<text x="428.80" y="292.93" font-size="6.6" textLength="9.90" lengthAdjust="spacingAndGlyphs" text-anchor="end" fill="#4a4a4a" stroke="#4a4a4a" stroke-width="0.12">200</text>
<text x="428.80" y="267.17" font-size="6.6" textLength="9.90" lengthAdjust="spacingAndGlyphs" text-anchor="end" fill="#4a4a4a" stroke="#4a4a4a" stroke-width="0.12">400</text>
<text x="428.80" y="241.40" font-size="6.6" textLength="9.90" lengthAdjust="spacingAndGlyphs" text-anchor="end" fill="#4a4a4a" stroke="#4a4a4a" stroke-width="0.12">600</text>
<line x1="431.40" y1="316.4" x2="431.40" y2="318.60" stroke="#222" stroke-width="0.8"/>
<line x1="435.32" y1="316.4" x2="435.32" y2="317.60" stroke="#222" stroke-width="0.8"/>
<line x1="439.24" y1="316.4" x2="439.24" y2="317.60" stroke="#222" stroke-width="0.8"/>
<line x1="443.16" y1="316.4" x2="443.16" y2="317.60" stroke="#222" stroke-width="0.8"/>
<line x1="447.08" y1="316.4" x2="447.08" y2="318.60" stroke="#222" stroke-width="0.8"/>
<line x1="451.00" y1="316.4" x2="451.00" y2="317.60" stroke="#222" stroke-width="0.8"/>
<line x1="454.93" y1="316.4" x2="454.93" y2="317.60" stroke="#222" stroke-width="0.8"/>
<line x1="458.85" y1="316.4" x2="458.85" y2="317.60" stroke="#222" stroke-width="0.8"/>
<line x1="462.77" y1="316.4" x2="462.77" y2="318.60" stroke="#222" stroke-width="0.8"/>
<line x1="466.69" y1="316.4" x2="466.69" y2="317.60" stroke="#222" stroke-width="0.8"/>
<line x1="470.61" y1="316.4" x2="470.61" y2="317.60" stroke="#222" stroke-width="0.8"/>
<line x1="474.53" y1="316.4" x2="474.53" y2="317.60" stroke="#222" stroke-width="0.8"/>
<line x1="478.45" y1="316.4" x2="478.45" y2="318.60" stroke="#222" stroke-width="0.8"/>
<line x1="482.37" y1="316.4" x2="482.37" y2="317.60" stroke="#222" stroke-width="0.8"/>
<line x1="486.29" y1="316.4" x2="486.29" y2="317.60" stroke="#222" stroke-width="0.8"/>
<line x1="490.21" y1="316.4" x2="490.21" y2="317.60" stroke="#222" stroke-width="0.8"/>
<line x1="494.13" y1="316.4" x2="494.13" y2="318.60" stroke="#222" stroke-width="0.8"/>
<line x1="498.06" y1="316.4" x2="498.06" y2="317.60" stroke="#222" stroke-width="0.8"/>
<line x1="501.98" y1="316.4" x2="501.98" y2="317.60" stroke="#222" stroke-width="0.8"/>
<line x1="505.90" y1="316.4" x2="505.90" y2="317.60" stroke="#222" stroke-width="0.8"/>
<line x1="509.82" y1="316.4" x2="509.82" y2="318.60" stroke="#222" stroke-width="0.8"/>
<text x="431.40" y="326.30" font-size="6.6" textLength="3.30" lengthAdjust="spacingAndGlyphs" text-anchor="middle" fill="#4a4a4a" stroke="#4a4a4a" stroke-width="0.12">0</text>
<text x="447.08" y="326.30" font-size="6.6" textLength="9.90" lengthAdjust="spacingAndGlyphs" text-anchor="middle" fill="#4a4a4a" stroke="#4a4a4a" stroke-width="0.12">200</text>
<text x="462.77" y="326.30" font-size="6.6" textLength="9.90" lengthAdjust="spacingAndGlyphs" text-anchor="middle" fill="#4a4a4a" stroke="#4a4a4a" stroke-width="0.12">400</text>
<text x="478.45" y="326.30" font-size="6.6" textLength="9.90" lengthAdjust="spacingAndGlyphs" text-anchor="middle" fill="#4a4a4a" stroke="#4a4a4a" stroke-width="0.12">600</text>
<text x="494.13" y="326.30" font-size="6.6" textLength="9.90" lengthAdjust="spacingAndGlyphs" text-anchor="middle" fill="#4a4a4a" stroke="#4a4a4a" stroke-width="0.12">800</text>
<text x="509.82" y="326.30" font-size="6.6" textLength="13.20" lengthAdjust="spacingAndGlyphs" text-anchor="middle" fill="#4a4a4a" stroke="#4a4a4a" stroke-width="0.12">1000</text>
<polyline points="384.30,111.90 385.60,107.90 386.80,105.90 387.60,107.40 388.00,109.90" fill="none" stroke="#111" stroke-width="2.0" stroke-linejoin="round" stroke-linecap="round"/>
<text x="84.1" y="71.3" font-size="10.0" textLength="24.6" lengthAdjust="spacingAndGlyphs" fill="#111" stroke="#111" stroke-width="0.2" >G1: 31</text>
<text x="85.6" y="82.4" font-size="10.0" textLength="19.2" lengthAdjust="spacingAndGlyphs" fill="#111" stroke="#111" stroke-width="0.2" >S: 44</text>
<text x="81.4" y="93.8" font-size="10.0" textLength="33.8" lengthAdjust="spacingAndGlyphs" fill="#111" stroke="#111" stroke-width="0.2" >G2/M: 25</text>
<text x="182.3" y="71.3" font-size="10.0" textLength="24.6" lengthAdjust="spacingAndGlyphs" fill="#111" stroke="#111" stroke-width="0.2" >G1: 31</text>
<text x="183.8" y="82.4" font-size="10.0" textLength="19.2" lengthAdjust="spacingAndGlyphs" fill="#111" stroke="#111" stroke-width="0.2" >S: 42</text>
<text x="179.60000000000002" y="93.8" font-size="10.0" textLength="33.8" lengthAdjust="spacingAndGlyphs" fill="#111" stroke="#111" stroke-width="0.2" >G2/M: 27</text>
<text x="278.6" y="71.3" font-size="10.0" textLength="24.6" lengthAdjust="spacingAndGlyphs" fill="#111" stroke="#111" stroke-width="0.2" >G1: 41</text>
<text x="280.1" y="82.4" font-size="10.0" textLength="19.2" lengthAdjust="spacingAndGlyphs" fill="#111" stroke="#111" stroke-width="0.2" >S: 37</text>
<text x="275.9" y="93.8" font-size="10.0" textLength="33.8" lengthAdjust="spacingAndGlyphs" fill="#111" stroke="#111" stroke-width="0.2" >G2/M: 22</text>
<text x="374.4" y="71.3" font-size="10.0" textLength="24.6" lengthAdjust="spacingAndGlyphs" fill="#111" stroke="#111" stroke-width="0.2" >G1: 24</text>
<text x="375.9" y="82.4" font-size="10.0" textLength="19.2" lengthAdjust="spacingAndGlyphs" fill="#111" stroke="#111" stroke-width="0.2" >S: 44</text>
<text x="371.7" y="93.8" font-size="10.0" textLength="33.8" lengthAdjust="spacingAndGlyphs" fill="#111" stroke="#111" stroke-width="0.2" >G2/M: 32</text>
<text x="471.79999999999995" y="71.3" font-size="10.0" textLength="24.6" lengthAdjust="spacingAndGlyphs" fill="#111" stroke="#111" stroke-width="0.2" >G1: 30</text>
<text x="473.29999999999995" y="82.4" font-size="10.0" textLength="19.2" lengthAdjust="spacingAndGlyphs" fill="#111" stroke="#111" stroke-width="0.2" >S: 44</text>
<text x="469.09999999999997" y="93.8" font-size="10.0" textLength="33.8" lengthAdjust="spacingAndGlyphs" fill="#111" stroke="#111" stroke-width="0.2" >G2/M: 26</text>
<text x="65.7" y="298" font-size="8.6" textLength="10.8" lengthAdjust="spacingAndGlyphs" fill="#111" stroke="#111" stroke-width="0.02" >2N</text>
<text x="165.39999999999998" y="298" font-size="8.6" textLength="10.8" lengthAdjust="spacingAndGlyphs" fill="#111" stroke="#111" stroke-width="0.02" >2N</text>
<text x="260.5" y="287.7" font-size="8.6" textLength="10.8" lengthAdjust="spacingAndGlyphs" fill="#111" stroke="#111" stroke-width="0.02" >2N</text>
<text x="357.0" y="298" font-size="8.6" textLength="10.8" lengthAdjust="spacingAndGlyphs" fill="#111" stroke="#111" stroke-width="0.02" >2N</text>
<text x="454.0" y="298" font-size="8.6" textLength="10.8" lengthAdjust="spacingAndGlyphs" fill="#111" stroke="#111" stroke-width="0.02" >2N</text>
<text x="102.9" y="253.5" font-size="8.6" textLength="10.8" lengthAdjust="spacingAndGlyphs" fill="#111" stroke="#111" stroke-width="0.02" >4N</text>
<text x="200.89999999999998" y="254" font-size="8.6" textLength="10.8" lengthAdjust="spacingAndGlyphs" fill="#111" stroke="#111" stroke-width="0.02" >4N</text>
<text x="294.59999999999997" y="264.8" font-size="8.6" textLength="10.8" lengthAdjust="spacingAndGlyphs" fill="#111" stroke="#111" stroke-width="0.02" >4N</text>
<text x="392.9" y="253.6" font-size="8.6" textLength="10.8" lengthAdjust="spacingAndGlyphs" fill="#111" stroke="#111" stroke-width="0.02" >4N</text>
<text x="489.9" y="253.6" font-size="8.6" textLength="10.8" lengthAdjust="spacingAndGlyphs" fill="#111" stroke="#111" stroke-width="0.02" >4N</text>
<rect x="156.5" y="392.5" width="203.0" height="135.0" fill="none" stroke="#777" stroke-width="1"/>
<line x1="167.50" y1="448.50" x2="167.50" y2="451.50" stroke="#111" stroke-width="1"/>
<line x1="165.70" y1="448.50" x2="169.30" y2="448.50" stroke="#111" stroke-width="1.3"/>
<rect x="163.50" y="451.50" width="8.50" height="76.00" fill="#fff" stroke="#111" stroke-width="1"/>
<line x1="176.50" y1="431.50" x2="176.50" y2="436.50" stroke="#111" stroke-width="1"/>
<line x1="174.70" y1="431.50" x2="178.30" y2="431.50" stroke="#111" stroke-width="1.3"/>
<rect x="172.00" y="436.50" width="10.00" height="91.00" fill="#000" stroke="#111" stroke-width="1"/>
<line x1="186.50" y1="464.50" x2="186.50" y2="469.50" stroke="#111" stroke-width="1"/>
<line x1="184.70" y1="464.50" x2="188.30" y2="464.50" stroke="#111" stroke-width="1.3"/>
<rect x="182.00" y="469.50" width="8.50" height="58.00" fill="#c0c0c0" stroke="#111" stroke-width="1"/>
<line x1="208.50" y1="450.50" x2="208.50" y2="454.50" stroke="#111" stroke-width="1"/>
<line x1="206.70" y1="450.50" x2="210.30" y2="450.50" stroke="#111" stroke-width="1.3"/>
<rect x="204.00" y="454.50" width="8.50" height="73.00" fill="#fff" stroke="#111" stroke-width="1"/>
<line x1="217.50" y1="432.50" x2="217.50" y2="438.50" stroke="#111" stroke-width="1"/>
<line x1="215.70" y1="432.50" x2="219.30" y2="432.50" stroke="#111" stroke-width="1.3"/>
<rect x="212.50" y="438.50" width="10.00" height="89.00" fill="#000" stroke="#111" stroke-width="1"/>
<line x1="226.50" y1="459.50" x2="226.50" y2="463.50" stroke="#111" stroke-width="1"/>
<line x1="224.70" y1="459.50" x2="228.30" y2="459.50" stroke="#111" stroke-width="1.3"/>
<rect x="222.50" y="463.50" width="8.50" height="64.00" fill="#c0c0c0" stroke="#111" stroke-width="1"/>
<line x1="248.50" y1="412.50" x2="248.50" y2="425.50" stroke="#111" stroke-width="1"/>
<line x1="246.70" y1="412.50" x2="250.30" y2="412.50" stroke="#111" stroke-width="1.3"/>
<rect x="244.50" y="425.50" width="8.50" height="102.00" fill="#fff" stroke="#111" stroke-width="1"/>
<line x1="258.50" y1="441.50" x2="258.50" y2="448.50" stroke="#111" stroke-width="1"/>
<line x1="256.70" y1="441.50" x2="260.30" y2="441.50" stroke="#111" stroke-width="1.3"/>
<rect x="253.00" y="448.50" width="10.00" height="79.00" fill="#000" stroke="#111" stroke-width="1"/>
<line x1="267.50" y1="476.50" x2="267.50" y2="483.50" stroke="#111" stroke-width="1"/>
<line x1="265.70" y1="476.50" x2="269.30" y2="476.50" stroke="#111" stroke-width="1.3"/>
<rect x="263.00" y="483.50" width="8.50" height="44.00" fill="#c0c0c0" stroke="#111" stroke-width="1"/>
<line x1="289.50" y1="464.50" x2="289.50" y2="472.50" stroke="#111" stroke-width="1"/>
<line x1="287.70" y1="464.50" x2="291.30" y2="464.50" stroke="#111" stroke-width="1.3"/>
<rect x="285.00" y="472.50" width="8.50" height="55.00" fill="#fff" stroke="#111" stroke-width="1"/>
<line x1="298.50" y1="416.50" x2="298.50" y2="429.50" stroke="#111" stroke-width="1"/>
<line x1="296.70" y1="416.50" x2="300.30" y2="416.50" stroke="#111" stroke-width="1.3"/>
<rect x="293.50" y="429.50" width="10.00" height="98.00" fill="#000" stroke="#111" stroke-width="1"/>
<line x1="307.50" y1="449.50" x2="307.50" y2="455.50" stroke="#111" stroke-width="1"/>
<line x1="305.70" y1="449.50" x2="309.30" y2="449.50" stroke="#111" stroke-width="1.3"/>
<rect x="303.50" y="455.50" width="8.50" height="72.00" fill="#c0c0c0" stroke="#111" stroke-width="1"/>
<line x1="329.50" y1="450.50" x2="329.50" y2="456.50" stroke="#111" stroke-width="1"/>
<line x1="327.70" y1="450.50" x2="331.30" y2="450.50" stroke="#111" stroke-width="1.3"/>
<rect x="325.50" y="456.50" width="8.50" height="71.00" fill="#fff" stroke="#111" stroke-width="1"/>
<line x1="338.50" y1="425.50" x2="338.50" y2="434.50" stroke="#111" stroke-width="1"/>
<line x1="336.70" y1="425.50" x2="340.30" y2="425.50" stroke="#111" stroke-width="1.3"/>
<rect x="334.00" y="434.50" width="10.00" height="93.00" fill="#000" stroke="#111" stroke-width="1"/>
<line x1="348.50" y1="462.50" x2="348.50" y2="466.50" stroke="#111" stroke-width="1"/>
<line x1="346.70" y1="462.50" x2="350.30" y2="462.50" stroke="#111" stroke-width="1.3"/>
<rect x="344.00" y="466.50" width="8.50" height="61.00" fill="#c0c0c0" stroke="#111" stroke-width="1"/>
<line x1="156.5" y1="392.5" x2="156.5" y2="527.5" stroke="#111" stroke-width="1"/>
<line x1="156.5" y1="527.5" x2="359.5" y2="527.5" stroke="#111" stroke-width="1"/>
<line x1="154.0" y1="527.50" x2="156.5" y2="527.50" stroke="#111" stroke-width="1"/>
<text x="152.2" y="532.0" font-size="10.6" textLength="5.1" lengthAdjust="spacingAndGlyphs" text-anchor="end" fill="#111" stroke="#111" stroke-width="0.24" >0</text>
<line x1="154.0" y1="505.00" x2="156.5" y2="505.00" stroke="#111" stroke-width="1"/>
<text x="152.2" y="509.5" font-size="10.6" textLength="10.2" lengthAdjust="spacingAndGlyphs" text-anchor="end" fill="#111" stroke="#111" stroke-width="0.24" >10</text>
<line x1="154.0" y1="482.50" x2="156.5" y2="482.50" stroke="#111" stroke-width="1"/>
<text x="152.2" y="487.0" font-size="10.6" textLength="10.2" lengthAdjust="spacingAndGlyphs" text-anchor="end" fill="#111" stroke="#111" stroke-width="0.24" >20</text>
<line x1="154.0" y1="460.00" x2="156.5" y2="460.00" stroke="#111" stroke-width="1"/>
<text x="152.2" y="464.5" font-size="10.6" textLength="10.2" lengthAdjust="spacingAndGlyphs" text-anchor="end" fill="#111" stroke="#111" stroke-width="0.24" >30</text>
<line x1="154.0" y1="437.50" x2="156.5" y2="437.50" stroke="#111" stroke-width="1"/>
<text x="152.2" y="442.0" font-size="10.6" textLength="10.2" lengthAdjust="spacingAndGlyphs" text-anchor="end" fill="#111" stroke="#111" stroke-width="0.24" >40</text>
<line x1="154.0" y1="415.00" x2="156.5" y2="415.00" stroke="#111" stroke-width="1"/>
<text x="152.2" y="419.5" font-size="10.6" textLength="10.2" lengthAdjust="spacingAndGlyphs" text-anchor="end" fill="#111" stroke="#111" stroke-width="0.24" >50</text>
<line x1="154.0" y1="392.50" x2="156.5" y2="392.50" stroke="#111" stroke-width="1"/>
<text x="152.2" y="397.0" font-size="10.6" textLength="10.2" lengthAdjust="spacingAndGlyphs" text-anchor="end" fill="#111" stroke="#111" stroke-width="0.24" >60</text>
<line x1="156.50" y1="527.5" x2="156.50" y2="530.0" stroke="#111" stroke-width="1"/>
<line x1="197.10" y1="527.5" x2="197.10" y2="530.0" stroke="#111" stroke-width="1"/>
<line x1="237.70" y1="527.5" x2="237.70" y2="530.0" stroke="#111" stroke-width="1"/>
<line x1="278.30" y1="527.5" x2="278.30" y2="530.0" stroke="#111" stroke-width="1"/>
<line x1="318.90" y1="527.5" x2="318.90" y2="530.0" stroke="#111" stroke-width="1"/>
<line x1="359.50" y1="527.5" x2="359.50" y2="530.0" stroke="#111" stroke-width="1"/>
<text transform="translate(173.93,551.04) rotate(-58.5)" font-size="10.2" textLength="28.15" lengthAdjust="spacingAndGlyphs" text-anchor="middle" fill="#111" stroke="#111" stroke-width="0.24">control</text>
<text transform="translate(214.53,554.15) rotate(-58.5)" font-size="10.2" textLength="35.45" lengthAdjust="spacingAndGlyphs" text-anchor="middle" fill="#111" stroke="#111" stroke-width="0.24">miR-375</text>
<text transform="translate(255.13,554.15) rotate(-58.5)" font-size="10.2" textLength="35.45" lengthAdjust="spacingAndGlyphs" text-anchor="middle" fill="#111" stroke="#111" stroke-width="0.24">miR-34a</text>
<text transform="translate(295.73,554.15) rotate(-58.5)" font-size="10.2" textLength="35.45" lengthAdjust="spacingAndGlyphs" text-anchor="middle" fill="#111" stroke="#111" stroke-width="0.24">miR-134</text>
<text transform="translate(336.33,556.38) rotate(-58.5)" font-size="10.2" textLength="40.67" lengthAdjust="spacingAndGlyphs" text-anchor="middle" fill="#111" stroke="#111" stroke-width="0.24">miR-181a</text>
<text x="245.4" y="408.9" font-size="11.2" textLength="6.2" lengthAdjust="spacingAndGlyphs" fill="#111" stroke="#111" stroke-width="0.3" >#</text>
<text x="264.6" y="472.5" font-size="11.2" textLength="6.2" lengthAdjust="spacingAndGlyphs" fill="#111" stroke="#111" stroke-width="0.3" >#</text>
<text x="285.8" y="461.4" font-size="11.2" textLength="6.2" lengthAdjust="spacingAndGlyphs" fill="#111" stroke="#111" stroke-width="0.3" >#</text>
<text x="305.6" y="444.4" font-size="11.2" textLength="6.2" lengthAdjust="spacingAndGlyphs" fill="#111" stroke="#111" stroke-width="0.3" >#</text>
<text transform="translate(128.2,486.4) rotate(-90)" font-size="11.9" textLength="61.2" lengthAdjust="spacingAndGlyphs" fill="#111" stroke="#111" stroke-width="0.24">% of total cells</text>
<rect x="363.8" y="392.3" width="34.8" height="43.1" fill="#fff" stroke="#555" stroke-width="1"/>
<rect x="367.3" y="398.50" width="4.6" height="4.6" fill="#fff" stroke="#111" stroke-width="1"/>
<text x="375.8" y="404.1" font-size="9.8" textLength="10.2" lengthAdjust="spacingAndGlyphs" fill="#111" stroke="#111" stroke-width="0.12" >G1</text>
<rect x="367.3" y="413.10" width="4.6" height="4.6" fill="#000" stroke="#111" stroke-width="1"/>
<text x="375.8" y="418.09999999999997" font-size="9.8" textLength="5.4" lengthAdjust="spacingAndGlyphs" fill="#111" stroke="#111" stroke-width="0.12" >S</text>
<rect x="367.3" y="426.90" width="4.6" height="4.6" fill="#c0c0c0" stroke="#111" stroke-width="1"/>
<text x="375.8" y="431.9" font-size="9.8" textLength="20.3" lengthAdjust="spacingAndGlyphs" fill="#111" stroke="#111" stroke-width="0.12" >G2/M</text>
</svg>
</body></html>
